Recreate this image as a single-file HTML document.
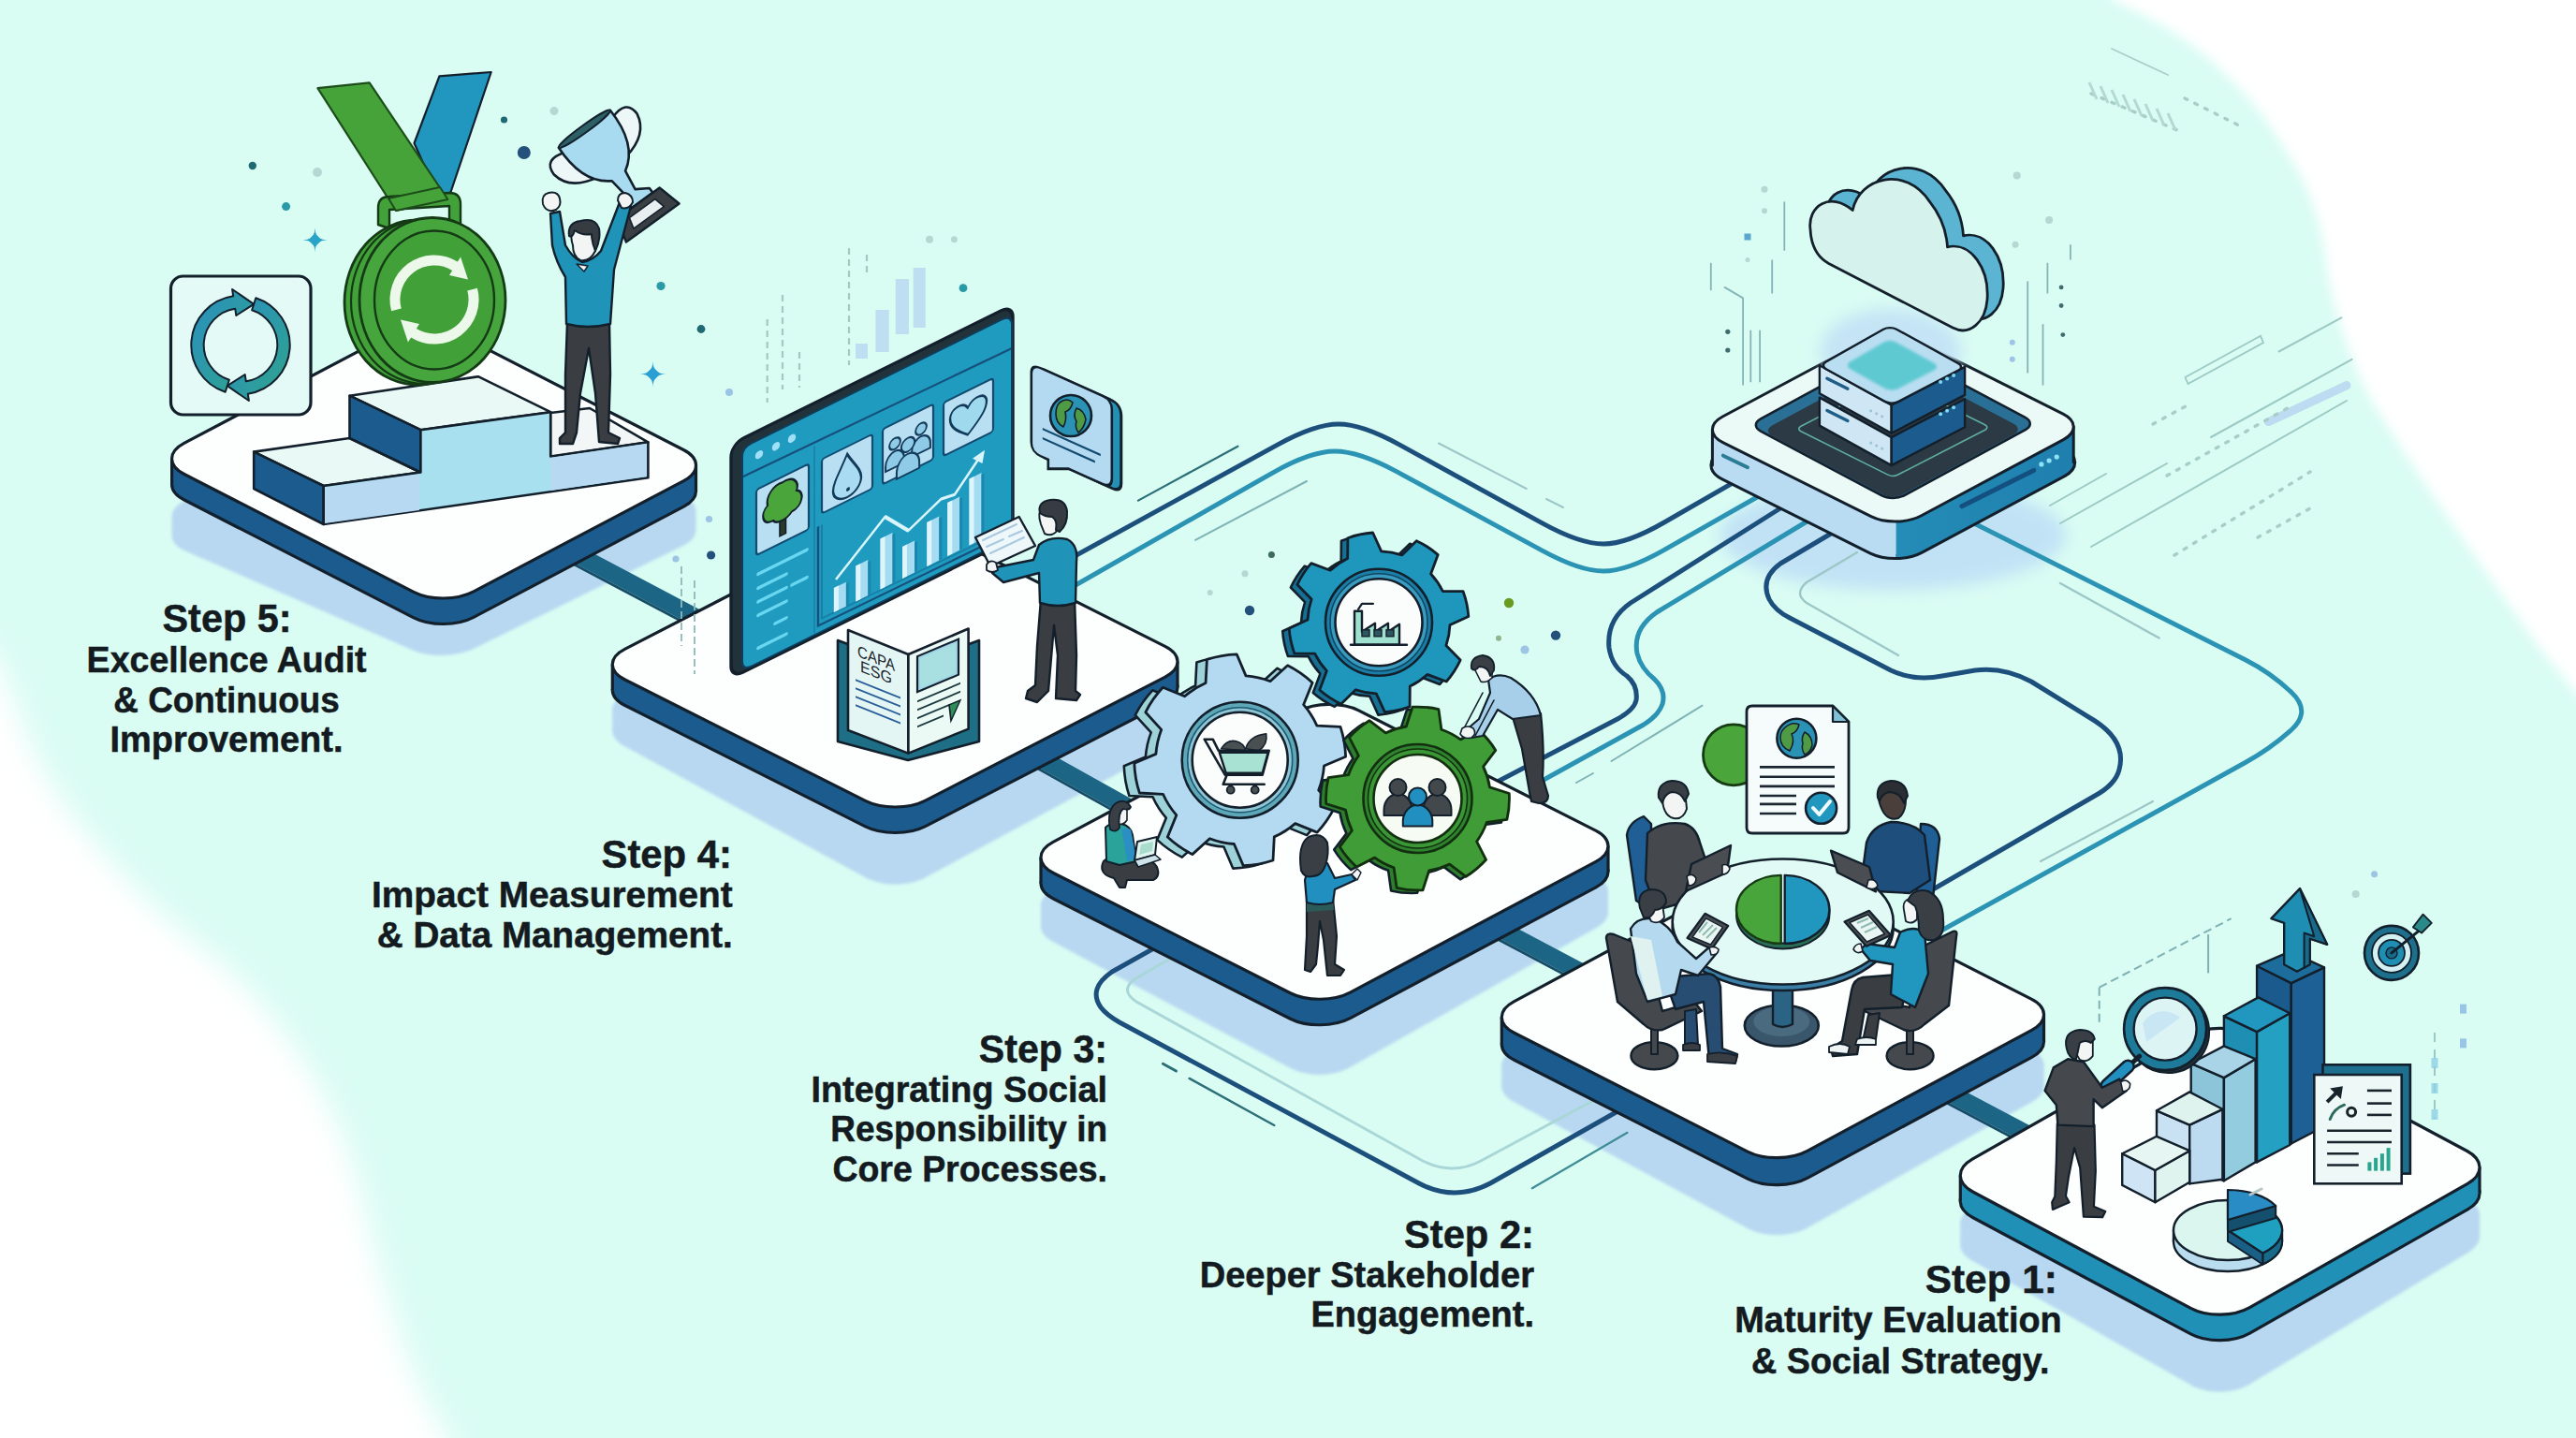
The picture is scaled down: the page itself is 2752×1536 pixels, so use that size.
<!DOCTYPE html>
<html><head><meta charset="utf-8"><title>CSR Maturity Roadmap</title>
<style>html,body{margin:0;padding:0;background:#d9fcf3;}body{width:2752px;height:1536px;overflow:hidden;font-family:"Liberation Sans",sans-serif;}svg{display:block}</style>
</head><body>
<svg width="2752" height="1536" viewBox="0 0 2752 1536" font-family="'Liberation Sans', sans-serif">
<defs><filter id="blur3" x="-10%" y="-10%" width="120%" height="120%"><feGaussianBlur stdDeviation="3"/></filter><filter id="blur40" x="-30%" y="-30%" width="160%" height="160%"><feGaussianBlur stdDeviation="28"/></filter><filter id="blur2" x="-10%" y="-10%" width="120%" height="120%"><feGaussianBlur stdDeviation="1.5"/></filter><filter id="blurTR" x="-20%" y="-20%" width="140%" height="140%"><feGaussianBlur stdDeviation="6"/></filter><filter id="blurBL" x="-20%" y="-20%" width="140%" height="140%"><feGaussianBlur stdDeviation="16"/></filter><filter id="blur8" x="-30%" y="-30%" width="160%" height="160%"><feGaussianBlur stdDeviation="8"/></filter></defs>
<rect width="2752" height="1536" fill="#d9fcf3"/>
<path d="M2248 -40 L2256 0 C2300 20 2335 40 2361 64 C2395 95 2415 118 2431 144 C2448 170 2460 190 2467 208 C2478 235 2483 262 2486 288 C2490 312 2496 334 2502 352 C2510 376 2518 398 2527 416 C2536 432 2544 446 2551 456 C2575 494 2602 534 2629 573 C2655 610 2682 648 2707 684 C2722 704 2738 722 2752 740 L2820 800 L2820 -40 Z" fill="#ffffff" filter="url(#blurTR)"/>
<path d="M-60 640 L0 708 C14 740 24 772 37 802 C52 834 70 862 93 889 C118 920 146 950 175 977 C200 1000 226 1018 249 1039 C272 1062 294 1088 312 1114 C332 1142 348 1170 362 1201 C378 1240 390 1284 399 1326 C410 1370 424 1412 436 1450 C450 1484 464 1512 480 1536 L500 1600 L-60 1600 Z" fill="#ffffff" filter="url(#blurBL)"/>
<g filter="url(#blur2)" fill="#b8d8f1"><path d="M197.9 588.5 C179.7 580.5 179.1 566.6 196.7 557.3 L421.2 439.1 C438.8 429.8 467.6 429.1 485.7 437.5 L729.6 551.6 C747.6 560.1 747.7 574 729.9 582.8 L506.4 692.8 C488.5 701.6 459.3 702.3 441 694.4 Z"/><path d="M197.9 566.5 C179.7 558.5 179.1 544.6 196.7 535.3 L421.2 417.1 C438.8 407.8 467.6 407.1 485.7 415.5 L729.6 529.6 C747.6 538.1 747.7 552 729.9 560.8 L506.4 670.8 C488.5 679.6 459.3 680.3 441 672.4 Z"/><polygon points="183.6,552 743.5,545 743.5,567 183.6,574"/></g>
<g filter="url(#blur2)" fill="#b8d8f1"><path d="M667.1 797 C649.7 787.5 649.8 772.4 667.5 763.3 L923.7 631.3 C941.3 622.2 970 622.3 987.6 631.4 L1244.8 765 C1262.5 774.2 1262.6 789.3 1245.1 798.7 L988.3 937.5 C970.8 946.9 942.5 946.9 925 937.4 Z"/><path d="M667.1 775 C649.7 765.5 649.8 750.4 667.5 741.3 L923.7 609.3 C941.3 600.2 970 600.3 987.6 609.4 L1244.8 743 C1262.5 752.2 1262.6 767.3 1245.1 776.7 L988.3 915.5 C970.8 924.9 942.5 924.9 925 915.4 Z"/><polygon points="654.3,757.7 1258,759.7 1258,781.7 654.3,779.7"/></g>
<g filter="url(#blur2)" fill="#b8d8f1"><path d="M1125.1 1006.1 C1107.5 996.8 1107.5 981.6 1125.1 972.3 L1387.6 832.5 C1405.2 823.2 1433.8 822.8 1451.6 831.6 L1704.5 957.4 C1722.3 966.2 1722.7 981.4 1705.4 991.1 L1441.9 1140.3 C1424.6 1150.1 1396.4 1150.5 1378.8 1141.1 Z"/><path d="M1125.1 984.1 C1107.5 974.8 1107.5 959.6 1125.1 950.3 L1387.6 810.5 C1405.2 801.2 1433.8 800.8 1451.6 809.6 L1704.5 935.4 C1722.3 944.2 1722.7 959.4 1705.4 969.1 L1441.9 1118.3 C1424.6 1128.1 1396.4 1128.5 1378.8 1119.1 Z"/><polygon points="1112,967 1718,951.6 1718,973.6 1112,989"/></g>
<g filter="url(#blur2)" fill="#b8d8f1"><path d="M1617.3 1177 C1599.8 1167.6 1599.8 1152.3 1617.3 1142.9 L1857 1014 C1874.5 1004.6 1903 1004.3 1920.7 1013.5 L2170.2 1142.8 C2187.9 1152 2188.1 1167.3 2170.8 1177 L1930.5 1311.8 C1913.2 1321.5 1884.9 1321.7 1867.4 1312.3 Z"/><path d="M1617.3 1155 C1599.8 1145.6 1599.8 1130.3 1617.3 1120.9 L1857 992 C1874.5 982.6 1903 982.3 1920.7 991.5 L2170.2 1120.8 C2187.9 1130 2188.1 1145.3 2170.8 1155 L1930.5 1289.8 C1913.2 1299.5 1884.9 1299.7 1867.4 1290.3 Z"/><polygon points="1604.3,1137.7 2183.5,1137.6 2183.5,1159.6 1604.3,1159.7"/></g>
<g filter="url(#blur2)" fill="#b8d8f1"><path d="M2107.1 1346.8 C2089.8 1337 2089.8 1321.1 2107.1 1311.2 L2339.9 1178.9 C2357.2 1169.1 2385.4 1168.7 2402.9 1178.1 L2635.7 1302.5 C2653.3 1311.9 2653.7 1327.8 2636.6 1338 L2403 1478.8 C2385.9 1489.1 2358.1 1489.4 2340.8 1479.6 Z"/><path d="M2107.1 1324.8 C2089.8 1315 2089.8 1299.1 2107.1 1289.2 L2339.9 1156.9 C2357.2 1147.1 2385.4 1146.7 2402.9 1156.1 L2635.7 1280.5 C2653.3 1289.9 2653.7 1305.8 2636.6 1316 L2403 1456.8 C2385.9 1467.1 2358.1 1467.4 2340.8 1457.6 Z"/><polygon points="2094.3,1306.8 2649,1297.7 2649,1319.7 2094.3,1328.8"/></g>
<ellipse cx="2022" cy="572" rx="185" ry="58" fill="#bfe0f6" opacity="0.9" filter="url(#blur8)"/>
<path d="M1149 593.5 L1364.7 475.1 Q1405 453 1430 453 L1430 453 Q1455 453 1495.3 475.1 L1647.7 558.9 Q1688 581 1713 581 L1713 581 Q1738 581 1777.9 558 L1870 505" fill="none" stroke="#1d4f7c" stroke-width="5" stroke-linecap="round" stroke-linejoin="round" />
<path d="M1149 625 L1360 504.8 Q1400 482 1426 482 L1426 482 Q1452 482 1492.4 503.9 L1647.6 588.1 Q1688 610 1713 610 L1713 610 Q1738 610 1778 587.3 L1900 518" fill="none" stroke="#2b93b3" stroke-width="5" stroke-linecap="round" stroke-linejoin="round" />
<path d="M1905 541 L1742 644 Q1716 662 1719 692 Q1722 712 1738 722 Q1750 732 1748 748 Q1746 758 1728 768 L1590 840" fill="none" stroke="#1d4f7c" stroke-width="5" stroke-linecap="round" stroke-linejoin="round" />
<path d="M1932 556 L1770 654 Q1744 672 1749 698 Q1753 714 1768 726 Q1780 738 1776 752 Q1772 764 1756 774 L1640 838" fill="none" stroke="#2b93b3" stroke-width="5" stroke-linecap="round" stroke-linejoin="round" />
<path d="M1956 570 L1902 602 Q1880 618 1890 640 Q1896 652 1912 660 L2020 716 Q2045 728 2075 722 L2110 716 Q2140 712 2170 728 L2238 770 Q2272 792 2264 822 Q2260 838 2238 850 L2065 950" fill="none" stroke="#1d4f7c" stroke-width="5" stroke-linecap="round" stroke-linejoin="round" />
<path d="M2109 559 L2398.2 704.5 Q2425 718 2446.9 738.5 L2447.5 739 Q2470 760 2447.5 780 L2447.4 780.1 Q2425 800 2398.7 814.5 L2074 994" fill="none" stroke="#2b93b3" stroke-width="5" stroke-linecap="round" stroke-linejoin="round" />
<path d="M1238 1010 L1188 1038 Q1162 1056 1176 1076 Q1182 1084 1196 1092 L1516 1264 Q1554 1284 1592 1264 L1730 1186" fill="none" stroke="#1d4f7c" stroke-width="5" stroke-linecap="round" stroke-linejoin="round" />
<path d="M1250 1024 L1212 1046 Q1196 1058 1214 1070 L1520 1240 Q1552 1256 1582 1240 L1705 1174" fill="none" stroke="#a9d6d6" stroke-width="3" stroke-linecap="round" stroke-linejoin="round" />
<path d="M1216 534.6 L1322.4 476.7" fill="none" stroke="#2c6f78" stroke-width="2.2" stroke-linecap="round" stroke-linejoin="round" />
<path d="M1277 576.8 L1396 514" fill="none" stroke="#7fb4b6" stroke-width="2" stroke-linecap="round" stroke-linejoin="round" />
<path d="M1537 473.5 L1630.7 522" fill="none" stroke="#9cc7c6" stroke-width="2" stroke-linecap="round" stroke-linejoin="round" />
<path d="M1652 533 L1670 542" fill="none" stroke="#9cc7c6" stroke-width="2" stroke-linecap="round" stroke-linejoin="round" />
<path d="M1818.5 753.7 L1721.5 813" fill="none" stroke="#7fb4b6" stroke-width="2" stroke-linecap="round" stroke-linejoin="round" />
<path d="M1702 826 L1684 836" fill="none" stroke="#7fb4b6" stroke-width="2" stroke-linecap="round" stroke-linejoin="round" />
<path d="M1242.4 1136.2 L1256.5 1144" fill="none" stroke="#2c6f78" stroke-width="3" stroke-linecap="round" stroke-linejoin="round" />
<path d="M1270.6 1151.9 L1361.3 1202" fill="none" stroke="#2c6f78" stroke-width="2.4" stroke-linecap="round" stroke-linejoin="round" />
<path d="M1636.8 1269.2 L1738.5 1209.8" fill="none" stroke="#3f8c95" stroke-width="2.2" stroke-linecap="round" stroke-linejoin="round" />
<path d="M1984 590 L1930 622 Q1916 634 1930 644 L2028 700" fill="none" stroke="#9cc7c6" stroke-width="2.4" stroke-linecap="round" stroke-linejoin="round" />
<path d="M2201 623 L2306.7 681.5" fill="none" stroke="#9cc7c6" stroke-width="2.4" stroke-linecap="round" stroke-linejoin="round" />
<path d="M2300 856 L2180 920" fill="none" stroke="#9cc7c6" stroke-width="2.2" stroke-linecap="round" stroke-linejoin="round" />
<polygon points="602,595.2 622,584.8 762,658.8 742,669.2" fill="#1d6584"  /><polygon points="602,595.2 742,669.2 742.6,672.7 602.6,598.7" fill="#164c66"  />
<polygon points="1098,813.2 1118,802.8 1222,860.8 1202,871.2" fill="#1d6584"  /><polygon points="1098,813.2 1202,871.2 1202.6,874.7 1098.6,816.7" fill="#164c66"  />
<polygon points="1588,995.2 1608,984.8 1710,1038.8 1690,1049.2" fill="#1d6584"  /><polygon points="1588,995.2 1690,1049.2 1690.6,1052.7 1588.6,998.7" fill="#164c66"  />
<polygon points="2070,1171.2 2090,1160.8 2196,1216.8 2176,1227.2" fill="#1d6584"  /><polygon points="2070,1171.2 2176,1227.2 2176.6,1230.7 2070.6,1174.7" fill="#164c66"  />
<path d="M196.9 534 C179.2 525 179.1 510.1 196.7 500.8 L421.2 382.6 C438.8 373.3 467.4 373.1 485.1 382.2 L730.2 508 C747.9 517 748 531.9 730.4 541.2 L505.9 659.4 C488.3 668.7 459.7 668.9 442 659.8 Z" fill="#1b5b8d" stroke="#13202c" stroke-width="3.2" stroke-linejoin="round"/>
<polygon points="183.6,490 743.5,497 743.5,524.5 183.6,517.5" fill="#1b5b8d"/>
<path d="M183.6 490 v27.5 M743.5 497 v27.5" stroke="#13202c" stroke-width="3.2" fill="none"/>
<path d="M196.9 506.5 C179.2 497.5 179.1 482.6 196.7 473.3 L421.2 355.1 C438.8 345.8 467.4 345.6 485.1 354.7 L730.2 480.5 C747.9 489.5 748 504.4 730.4 513.7 L505.9 631.9 C488.3 641.2 459.7 641.4 442 632.3 Z" fill="#fdfefe" stroke="#13202c" stroke-width="3.2" stroke-linejoin="round"/>
<path d="M667.7 753.5 C649.9 744.5 649.8 729.9 667.5 720.8 L923.7 588.8 C941.3 579.7 970.1 579.6 987.8 588.5 L1244.6 717.9 C1262.4 726.9 1262.5 741.5 1244.8 750.6 L988.6 882.6 C971 891.7 942.2 891.8 924.5 882.9 Z" fill="#1b5b8d" stroke="#13202c" stroke-width="3.2" stroke-linejoin="round"/>
<polygon points="654.3,709.7 1258,706.7 1258,734.2 654.3,737.2" fill="#1b5b8d"/>
<path d="M654.3 709.7 v27.5 M1258 706.7 v27.5" stroke="#13202c" stroke-width="3.2" fill="none"/>
<path d="M667.7 726 C649.9 717 649.8 702.4 667.5 693.3 L923.7 561.3 C941.3 552.2 970.1 552.1 987.8 561 L1244.6 690.4 C1262.4 699.4 1262.5 714 1244.8 723.1 L988.6 855.1 C971 864.2 942.2 864.3 924.5 855.4 Z" fill="#fdfefe" stroke="#13202c" stroke-width="3.2" stroke-linejoin="round"/>
<path d="M1125.4 960 C1107.7 951 1107.5 936.1 1125.1 926.8 L1387.6 787 C1405.2 777.7 1433.8 777.4 1451.5 786.4 L1704.6 914.6 C1722.3 923.6 1722.5 938.5 1704.9 947.8 L1442.4 1087.6 C1424.8 1096.9 1396.2 1097.2 1378.5 1088.2 Z" fill="#1b5b8d" stroke="#13202c" stroke-width="3.2" stroke-linejoin="round"/>
<polygon points="1112,916 1718,903.6 1718,931.1 1112,943.5" fill="#1b5b8d"/>
<path d="M1112 916 v27.5 M1718 903.6 v27.5" stroke="#13202c" stroke-width="3.2" fill="none"/>
<path d="M1125.4 932.5 C1107.7 923.5 1107.5 908.6 1125.1 899.3 L1387.6 759.5 C1405.2 750.2 1433.8 749.9 1451.5 758.9 L1704.6 887.1 C1722.3 896.1 1722.5 911 1704.9 920.3 L1442.4 1060.1 C1424.8 1069.4 1396.2 1069.7 1378.5 1060.7 Z" fill="#fdfefe" stroke="#13202c" stroke-width="3.2" stroke-linejoin="round"/>
<path d="M1617.7 1132.2 C1600 1123.2 1599.8 1108.3 1617.3 1098.9 L1857 970 C1874.5 960.6 1903.1 960.2 1920.8 969.2 L2170.1 1096.1 C2187.8 1105.1 2188 1120 2170.5 1129.4 L1930.8 1258.3 C1913.3 1267.7 1884.7 1268.1 1867 1259.1 Z" fill="#1b5b8d" stroke="#13202c" stroke-width="3.2" stroke-linejoin="round"/>
<polygon points="1604.3,1086.7 2183.5,1083.6 2183.5,1112.6 1604.3,1115.7" fill="#1b5b8d"/>
<path d="M1604.3 1086.7 v29 M2183.5 1083.6 v29" stroke="#13202c" stroke-width="3.2" fill="none"/>
<path d="M1617.7 1103.2 C1600 1094.2 1599.8 1079.3 1617.3 1069.9 L1857 941 C1874.5 931.6 1903.1 931.2 1920.8 940.2 L2170.1 1067.1 C2187.8 1076.1 2188 1091 2170.5 1100.4 L1930.8 1229.3 C1913.3 1238.7 1884.7 1239.1 1867 1230.1 Z" fill="#fdfefe" stroke="#13202c" stroke-width="3.2" stroke-linejoin="round"/>
<path d="M2107.6 1300.5 C2090 1291.1 2089.8 1275.6 2107.1 1265.7 L2339.9 1133.4 C2357.2 1123.6 2385.4 1123.2 2402.9 1132.6 L2635.7 1257 C2653.3 1266.4 2653.5 1281.9 2636.2 1291.8 L2403.4 1424.1 C2386.1 1433.9 2357.9 1434.3 2340.4 1424.9 Z" fill="#2190b6" stroke="#13202c" stroke-width="3.2" stroke-linejoin="round"/>
<polygon points="2094.3,1255.8 2649,1246.7 2649,1274.2 2094.3,1283.3" fill="#2190b6"/>
<path d="M2094.3 1255.8 v27.5 M2649 1246.7 v27.5" stroke="#13202c" stroke-width="3.2" fill="none"/>
<path d="M2107.6 1273 C2090 1263.6 2089.8 1248.1 2107.1 1238.2 L2339.9 1105.9 C2357.2 1096.1 2385.4 1095.7 2402.9 1105.1 L2635.7 1229.5 C2653.3 1238.9 2653.5 1254.4 2636.2 1264.3 L2403.4 1396.6 C2386.1 1406.4 2357.9 1406.8 2340.4 1397.4 Z" fill="#fdfefe" stroke="#13202c" stroke-width="3.2" stroke-linejoin="round"/>
<polygon points="588,441 630,436 692.4,472.3 588,488" fill="#f3f6f6" stroke="#13202c" stroke-width="2.6" stroke-linejoin="round" />
<polygon points="271.2,482.6 373.5,468 449,504.5 345.7,519" fill="#e9f9f6" stroke="#13202c" stroke-width="2.6" stroke-linejoin="round" />
<polygon points="271.2,482.6 345.7,519 345.7,560 271.2,522" fill="#1b5b8d" stroke="#13202c" stroke-width="2.6" stroke-linejoin="round" />
<polygon points="373.5,422.7 510.8,402.2 588.2,440.2 449.4,459.2" fill="#e9f9f6" stroke="#13202c" stroke-width="2.6" stroke-linejoin="round" />
<polygon points="373.5,422.7 449.4,459.2 449.4,504.5 373.5,468" fill="#1b5b8d" stroke="#13202c" stroke-width="2.6" stroke-linejoin="round" />
<polygon points="345.7,560 345.7,519 449.4,504.5 449.4,459.2 588.2,440.2 588.2,487.5 692.4,472.3 692.4,510.3" fill="#a9e0f0" stroke="#13202c" stroke-width="2.6" stroke-linejoin="round" />
<polygon points="588.2,489 691,474 691,509 588.2,524" fill="#b7daf2"  />
<polygon points="347,521 448,506.5 448,545 347,559" fill="#b7daf2"  />
<rect x="182.5" y="295" width="149.5" height="148" rx="13" fill="#e3faf6" stroke="#13202c" stroke-width="3.2"/>
<defs><linearGradient id="gIc" x1="0" y1="0" x2="1" y2="1"><stop offset="0" stop-color="#2a8fc0"/><stop offset="1" stop-color="#2fa48c"/></linearGradient></defs>
<path d="M240.7 418.7 A52.8 52.8 0 0 1 249.2 316.3 L248.1 309 L271.2 324.8 L252.3 337 L251.2 329.7 A39.2 39.2 0 0 0 244.9 405.8 Z" fill="url(#gIc)" stroke="#13202c" stroke-width="2" stroke-linejoin="round" stroke-linecap="round" />
<path d="M273.3 318.3 A52.8 52.8 0 0 1 264.8 420.7 L265.9 428 L242.8 412.2 L261.7 400 L262.8 407.3 A39.2 39.2 0 0 0 269.1 331.2 Z" fill="url(#gIc)" stroke="#13202c" stroke-width="2" stroke-linejoin="round" stroke-linecap="round" />
<polygon points="469.4,81.4 524.7,77 481.4,205.5 470,214 442.5,153" fill="#2196bf" stroke="#13202c" stroke-width="2.2" stroke-linejoin="round" />
<polygon points="339.4,94.2 394.7,88.3 478.4,213 423,225" fill="#45a33a" stroke="#1d4d1a" stroke-width="2.2" stroke-linejoin="round" />
<path d="M404 240 L404 222 Q404 210 416 210 L480 206 Q492 206 492 218 L492 240 L480 240 L480 220 L416 224 L416 244 Z" fill="#43a13a" stroke="#143a16" stroke-width="2.4" stroke-linejoin="round" stroke-linecap="round" />
<polygon points="423,225 478.4,213 470,200 415,212" fill="#45a33a" stroke="#1d4d1a" stroke-width="2" stroke-linejoin="round" />
<ellipse cx="446" cy="323" rx="78" ry="88" fill="#43a13a" stroke="#143a16" stroke-width="2.8" />
<ellipse cx="453" cy="322" rx="78" ry="88" fill="#43a13a" stroke="#143a16" stroke-width="2.2" />
<ellipse cx="462" cy="320.5" rx="78" ry="88" fill="#46a63d" stroke="#143a16" stroke-width="2.8" />
<ellipse cx="464" cy="320.5" rx="64" ry="74" fill="#41a038" stroke="#143a16" stroke-width="2.4" />
<path d="M418.1 332.3 A47.5 47.5 0 0 1 488.9 279.5 L492.1 274.4 L500 298.4 L480 294.1 L483.1 288.9 A36.5 36.5 0 0 0 428.7 329.4 Z" fill="#ecf8ea"  />
<path d="M509.9 307.7 A47.5 47.5 0 0 1 439.1 360.5 L435.9 365.6 L428 341.6 L448 345.9 L444.9 351.1 A36.5 36.5 0 0 0 499.3 310.6 Z" fill="#ecf8ea"  />
<g transform="translate(-13 2) rotate(-36 655 160)">
<path d="M624 138 Q600 130 600 150 Q604 174 636 180 M686 138 Q710 130 710 150 Q706 174 674 180" fill="#eef7f8" stroke="#13202c" stroke-width="2.6" stroke-linejoin="round" stroke-linecap="round" />
<path d="M621 130 L689 130 Q691 176 664 192 L661 214 L674 222 L674 228 L636 228 L636 222 L649 214 L646 192 Q619 176 621 130 Z" fill="#a9dbf0" stroke="#13202c" stroke-width="2.6" stroke-linejoin="round" stroke-linecap="round" />
<ellipse cx="655" cy="130" rx="34" ry="4" fill="#2c5f66" stroke="#13202c" stroke-width="2" />
<path d="M627 228 L683 228 L690 254 L620 254 Z" fill="#3a3f44" stroke="#13202c" stroke-width="2.4" stroke-linejoin="round" stroke-linecap="round" />
<path d="M638 235 L672 235 L675 247 L635 247 Z" fill="#e9eef0" stroke="#13202c" stroke-width="1.6" stroke-linejoin="round" stroke-linecap="round" />
</g>
<path d="M606 344 L651 344 L652 400 L650 462 L662 468 L660 474 L640 472 L636 420 L629 372 L620 420 L616 462 L612 474 L598 474 L598 468 L604 462 L604 400 Z" fill="#3a3d41" stroke="#13202c" stroke-width="2.4" stroke-linejoin="round" stroke-linecap="round" />
<path d="M588 228 L598 226 L604 262 Q612 276 622 280 Q634 278 642 268 L662 216 L674 220 L656 288 L652 346 Q628 352 605 346 L604 296 Q594 280 590 262 Z" fill="#2093b8" stroke="#13202c" stroke-width="2.4" stroke-linejoin="round" stroke-linecap="round" />
<path d="M580 218 q-2 -10 6 -12 q10 -2 12 6 q2 8 -4 12 q-10 4 -14 -6 Z" fill="#f3f5f5" stroke="#13202c" stroke-width="2" stroke-linejoin="round" stroke-linecap="round" />
<path d="M660 214 q0 -8 8 -8 q8 2 8 10 q-4 8 -12 6 Z" fill="#f3f5f5" stroke="#13202c" stroke-width="2" stroke-linejoin="round" stroke-linecap="round" />
<path d="M612 262 Q608 250 614 244 L634 246 L636 268 Q630 280 620 278 Q612 274 612 262 Z" fill="#f3f5f5" stroke="#13202c" stroke-width="2" stroke-linejoin="round" stroke-linecap="round" />
<path d="M608 252 Q606 238 620 236 Q636 232 640 244 Q642 256 636 268 Q632 258 632 250 Q622 252 614 246 Q612 254 608 252 Z" fill="#363c42" stroke="#13202c" stroke-width="2" stroke-linejoin="round" stroke-linecap="round" />
<path d="M616 282 L628 284 L624 290 Z" fill="#f3f5f5" stroke="#13202c" stroke-width="1.4" stroke-linejoin="round" stroke-linecap="round" />
<g transform="matrix(1,-0.495,0,1,782,476)">
<rect x="-1" y="-2" width="301" height="250" rx="13" fill="#22323b" stroke="#13202c" stroke-width="3.4"/>
<path d="M11 18 Q11 8 21 8 L288 8 Q299 8 299 19 L299 236 Q299 246 288 246 L21 246 Q11 246 11 236 Z" fill="#1f9bbf" stroke="#0f3e5c" stroke-width="2"/>
<path d="M12 39 L298 44" stroke="#15517c" stroke-width="2.4" fill="none"/>
<circle cx="29" cy="24" r="4.2" fill="#9fe0f6"/>
<circle cx="47" cy="24" r="4.2" fill="#9fe0f6"/>
<circle cx="64" cy="24" r="4.2" fill="#9fe0f6"/>
<path d="M88 44 L88 244" stroke="#1b86ab" stroke-width="2" fill="none"/>
<rect x="26" y="60" width="56" height="70" rx="3" fill="#b9dff3" stroke="#124a70" stroke-width="2.2"/>
<rect x="96" y="62" width="54" height="58" rx="3" fill="#b9dff3" stroke="#124a70" stroke-width="2.2"/>
<rect x="161" y="62" width="54" height="59" rx="3" fill="#b9dff3" stroke="#124a70" stroke-width="2.2"/>
<rect x="226" y="66" width="53" height="57" rx="3" fill="#b9dff3" stroke="#124a70" stroke-width="2.2"/>
<path d="M92 132 L92 238 L297 240" fill="none" stroke="#15517c" stroke-width="2.4"/>
<path d="M96 132 L96 232 L297 235" fill="none" stroke="#177fa6" stroke-width="2"/>
<rect x="108.9" y="206" width="13" height="26" fill="#a5dcf2"/>
<rect x="108.9" y="206" width="5" height="26" fill="#dff5fc"/>
<rect x="121.9" y="208" width="3" height="24" fill="#1a88ae"/>
<rect x="132.3" y="194" width="13" height="38" fill="#a5dcf2"/>
<rect x="132.3" y="194" width="5" height="38" fill="#dff5fc"/>
<rect x="145.3" y="196" width="3" height="36" fill="#1a88ae"/>
<rect x="158.5" y="178" width="13" height="54" fill="#a5dcf2"/>
<rect x="158.5" y="178" width="5" height="54" fill="#dff5fc"/>
<rect x="171.5" y="180" width="3" height="52" fill="#1a88ae"/>
<rect x="182" y="198" width="13" height="34" fill="#a5dcf2"/>
<rect x="182" y="198" width="5" height="34" fill="#dff5fc"/>
<rect x="195" y="200" width="3" height="32" fill="#1a88ae"/>
<rect x="208.3" y="185" width="13" height="47" fill="#a5dcf2"/>
<rect x="208.3" y="185" width="5" height="47" fill="#dff5fc"/>
<rect x="221.3" y="187" width="3" height="45" fill="#1a88ae"/>
<rect x="230.2" y="175" width="13" height="57" fill="#a5dcf2"/>
<rect x="230.2" y="175" width="5" height="57" fill="#dff5fc"/>
<rect x="243.2" y="177" width="3" height="55" fill="#1a88ae"/>
<rect x="253.5" y="161" width="13" height="71" fill="#a5dcf2"/>
<rect x="253.5" y="161" width="5" height="71" fill="#dff5fc"/>
<rect x="266.5" y="163" width="3" height="69" fill="#1a88ae"/>
<path d="M111 198 L163.6 157 L188.4 184 L223.5 167.6 L238 170 L266 142" fill="none" stroke="#d9f5fc" stroke-width="3.2" stroke-linejoin="round"/>
<path d="M257 141 L270 138.5 L267.5 151.5 Z" fill="#d9f5fc"/>
<path d="M28 151 L80 151" stroke="#69d7f0" stroke-width="3.6" stroke-linecap="round"/>
<path d="M28 166 L58 166" stroke="#69d7f0" stroke-width="3.6" stroke-linecap="round"/>
<path d="M28 180.5 L58 180.5" stroke="#69d7f0" stroke-width="3.6" stroke-linecap="round"/>
<path d="M64 180.5 L80 180.5" stroke="#69d7f0" stroke-width="3.6" stroke-linecap="round"/>
<path d="M28 195 L58 195" stroke="#69d7f0" stroke-width="3.6" stroke-linecap="round"/>
<path d="M46 212.7 L58 212.7" stroke="#69d7f0" stroke-width="3.6" stroke-linecap="round"/>
<path d="M28 230 L58 230" stroke="#69d7f0" stroke-width="3.6" stroke-linecap="round"/>
</g>
<g transform="matrix(1,-0.495,0,1,782,476)">
<rect x="51" y="92" width="6.5" height="30" fill="#2a3b2c" stroke="#13202c" stroke-width="1.6"/>
<path d="M54 66 C66 64 72 74 69 82 C78 86 76 102 64 102 C58 108 48 108 44 102 C32 102 30 88 38 83 C36 72 44 64 54 66 Z" fill="#4aa63b" stroke="#13202c" stroke-width="2.2"/>
<path d="M123 70 C116 84 108 93 108 102 A15 14 0 0 0 138 102 C138 93 130 84 123 70 Z" fill="#a9dcf2" stroke="#123a5a" stroke-width="2.4"/>
<circle cx="124" cy="108" r="2" fill="#123a5a"/>
<path d="M164.1 103.8 a9.9 11.7 0 0 1 19.8 0 v5.4 h-19.8 Z" fill="#8fcbe6" stroke="#123a5a" stroke-width="2"/>
<circle cx="174" cy="84" r="5.9" fill="#8fcbe6" stroke="#123a5a" stroke-width="2"/>
<path d="M192.1 101.8 a9.9 11.7 0 0 1 19.8 0 v5.4 h-19.8 Z" fill="#8fcbe6" stroke="#123a5a" stroke-width="2"/>
<circle cx="202" cy="82" r="5.9" fill="#8fcbe6" stroke="#123a5a" stroke-width="2"/>
<path d="M175.9 116.2 a12.1 14.3 0 0 1 24.2 0 v6.6 h-24.2 Z" fill="#8fcbe6" stroke="#123a5a" stroke-width="2"/>
<circle cx="188" cy="92" r="7.2" fill="#8fcbe6" stroke="#123a5a" stroke-width="2"/>
<path d="M252 113 C238 102 233 95 233 87 C233 77 246 74 252 84 C258 74 272 77 272 87 C272 95 266 102 252 113 Z" fill="#9fd9ee" stroke="#123a5a" stroke-width="2.4"/>
</g>
<g transform="matrix(1,0.45,0,1,1101.8,388.7)">
<path d="M14 0 L84 0 Q96 0 96 12 L96 84 Q96 94 86 94 L14 94 Q8 94 8 84 L8 12 Q8 0 14 0 Z" fill="#2490b4" stroke="#13202c" stroke-width="3"/>
<path d="M10 0 L76 0 Q86 0 86 10 L86 84 Q86 94 76 94 L40 94 L18 104 L18 94 L10 94 Q0 94 0 84 L0 10 Q0 0 10 0 Z" fill="#b3daf0" stroke="#13202c" stroke-width="2.6"/>
<path d="M12 64 L74 64 M12 74 L68 74" stroke="#134a70" stroke-width="2.4" fill="none"/>
</g>
<circle cx="1144" cy="444" r="22" fill="#2a93b5" stroke="#13202c" stroke-width="2.6" />
<path d="M1132 430 q8 -6 14 0 q-2 8 -8 10 q2 8 -2 16 q-8 -4 -8 -14 q0 -8 4 -12 Z M1150 436 q8 2 10 12 q-2 10 -8 14 q-4 -6 -2 -12 q-4 -6 0 -14 Z" fill="#4f9a45" stroke="#13202c" stroke-width="1.6" stroke-linejoin="round" stroke-linecap="round" />
<polygon points="895,684 970,712 1046,684 1046,792 970,812 895,792" fill="#1e6f86" stroke="#13202c" stroke-width="2.6" stroke-linejoin="round" />
<polygon points="906,673 970.4,699 970.4,804.6 906,780" fill="#e4f6f4" stroke="#13202c" stroke-width="2.6" stroke-linejoin="round" />
<polygon points="970.4,699 1034.6,671.5 1034.6,778.6 970.4,804.6" fill="#ecfaf6" stroke="#13202c" stroke-width="2.6" stroke-linejoin="round" />
<g transform="matrix(1,0.4,0,1,916,701)"><text x="0" y="0" font-size="17" fill="#1a242c" textLength="40" lengthAdjust="spacingAndGlyphs">CAPA</text><text x="3" y="15" font-size="17" fill="#1a242c" textLength="34" lengthAdjust="spacingAndGlyphs">ESG</text><path d="M-2 26 L46 26 M-2 35 L46 35 M-2 44 L46 44 M-2 53 L46 53" stroke="#2a5f9a" stroke-width="2" fill="none"/></g>
<g transform="matrix(1,-0.42,0,1,978,702)"><rect x="2" y="0" width="44" height="38" fill="#9fd4e6" stroke="#13202c" stroke-width="2.2"/><rect x="5" y="3" width="38" height="32" fill="#a8dfe0" stroke="none"/><path d="M2 48 L48 48 M2 57 L48 57 M2 66 L36 66 M2 75 L30 75" stroke="#1d3b40" stroke-width="2" fill="none"/><path d="M36 66 L48 66 L38 84 Z" fill="#2f8d5a" stroke="#13202c" stroke-width="1.6"/></g>
<path d="M1112 640 L1148 640 L1150 700 L1149 738 L1154 742 L1150 748 L1128 746 L1130 700 L1126 668 L1120 738 L1108 750 L1096 746 L1098 738 L1106 732 L1108 690 Z" fill="#3a3d41" stroke="#13202c" stroke-width="2.4" stroke-linejoin="round" stroke-linecap="round" />
<path d="M1110 582 Q1122 572 1140 576 Q1152 582 1150 600 L1149 644 Q1130 650 1111 644 L1110 612 L1072 622 L1060 612 L1064 606 L1104 598 Z" fill="#1f93b8" stroke="#13202c" stroke-width="2.4" stroke-linejoin="round" stroke-linecap="round" />
<polygon points="1042,574 1088.7,552 1106,583 1058,605" fill="#eef7fa" stroke="#13202c" stroke-width="2.4" stroke-linejoin="round" />
<path d="M1050 577 L1086 560 M1054 584 L1072 576 M1078 573 L1092 567 M1058 591 L1094 574" fill="none" stroke="#a9c9e0" stroke-width="2" stroke-linecap="round" stroke-linejoin="round" />
<path d="M1054 603 q4 -6 10 -2 l2 8 q-6 4 -12 0 Z" fill="#f3f5f5" stroke="#13202c" stroke-width="1.8" stroke-linejoin="round" stroke-linecap="round" />
<path d="M1112 560 Q1108 548 1113 543 Q1118 552 1128 552 L1130 566 Q1124 574 1116 570 Z" fill="#f3f5f5" stroke="#13202c" stroke-width="2" stroke-linejoin="round" stroke-linecap="round" />
<path d="M1111 548 Q1108 536 1122 534 Q1138 532 1140 546 Q1141 560 1132 568 L1128 566 Q1130 556 1124 552 Q1116 552 1111 548 Z" fill="#363c42" stroke="#13202c" stroke-width="2" stroke-linejoin="round" stroke-linecap="round" />
<path d="M1397.7 847 L1414.6 865.6 A113 113 0 0 1 1396.1 892.1 L1372.7 882.6 A90 90 0 0 1 1350.3 896.9 L1349 922 A113 113 0 0 1 1317.2 927.6 L1307.4 904.5 A90 90 0 0 1 1281.4 898.7 L1262.8 915.6 A113 113 0 0 1 1236.3 897.1 L1245.8 873.7 A90 90 0 0 1 1231.5 851.3 L1206.4 850 A113 113 0 0 1 1200.8 818.2 L1223.9 808.4 A90 90 0 0 1 1229.7 782.4 L1212.8 763.8 A113 113 0 0 1 1231.3 737.3 L1254.7 746.8 A90 90 0 0 1 1277.1 732.5 L1278.4 707.4 A113 113 0 0 1 1310.2 701.8 L1320 724.9 A90 90 0 0 1 1346 730.7 L1364.6 713.8 A113 113 0 0 1 1391.1 732.3 L1381.6 755.7 A90 90 0 0 1 1395.9 778.1 L1421 779.4 A113 113 0 0 1 1426.6 811.2 L1403.5 821 A90 90 0 0 1 1397.7 847 Z" fill="#9dd2d8" stroke="#13202c" stroke-width="2.6" stroke-linejoin="round" stroke-linecap="round" />
<path d="M1408.7 844 L1425.6 862.6 A113 113 0 0 1 1407.1 889.1 L1383.7 879.6 A90 90 0 0 1 1361.3 893.9 L1360 919 A113 113 0 0 1 1328.2 924.6 L1318.4 901.5 A90 90 0 0 1 1292.4 895.7 L1273.8 912.6 A113 113 0 0 1 1247.3 894.1 L1256.8 870.7 A90 90 0 0 1 1242.5 848.3 L1217.4 847 A113 113 0 0 1 1211.8 815.2 L1234.9 805.4 A90 90 0 0 1 1240.7 779.4 L1223.8 760.8 A113 113 0 0 1 1242.3 734.3 L1265.7 743.8 A90 90 0 0 1 1288.1 729.5 L1289.4 704.4 A113 113 0 0 1 1321.2 698.8 L1331 721.9 A90 90 0 0 1 1357 727.7 L1375.6 710.8 A113 113 0 0 1 1402.1 729.3 L1392.6 752.7 A90 90 0 0 1 1406.9 775.1 L1432 776.4 A113 113 0 0 1 1437.6 808.2 L1414.5 818 A90 90 0 0 1 1408.7 844 Z" fill="#b4daf2" stroke="#13202c" stroke-width="2.8" stroke-linejoin="round" stroke-linecap="round" />
<circle cx="1324.7" cy="811.7" r="62" fill="#5ea7b8" stroke="#13202c" stroke-width="2.6" />
<circle cx="1324.7" cy="811.7" r="56" fill="#8fc6d6" stroke="#1d5a72" stroke-width="1.6" />
<circle cx="1324.7" cy="811.7" r="51" fill="#fbfdfd" stroke="#13202c" stroke-width="2.6" />
<path d="M1304.7 799.7 q6 -10 16 -8 q8 2 10 10 Z" fill="#4a4f52" stroke="#13202c" stroke-width="1.6" stroke-linejoin="round" stroke-linecap="round" />
<path d="M1330.7 799.7 q4 -14 22 -16 q2 12 -8 18 Z" fill="#4a4f52" stroke="#13202c" stroke-width="1.6" stroke-linejoin="round" stroke-linecap="round" />
<path d="M1286.7 789.7 l9 0 l6 12 l54 0 l-7 26 l-40 0 Z" fill="none" stroke="#13202c" stroke-width="2.6" stroke-linejoin="round" stroke-linecap="round" />
<path d="M1302.7 803.7 l52 0 l-6 22 l-39 0 Z" fill="#a7e2d3" stroke="#13202c" stroke-width="2.4" stroke-linejoin="round" stroke-linecap="round" />
<path d="M1310.7 827.7 l-4 10 l44 0" fill="none" stroke="#13202c" stroke-width="2.6" stroke-linejoin="round" stroke-linecap="round" />
<circle cx="1314.7" cy="843.7" r="4" fill="#4a4f52" stroke="#13202c" stroke-width="1.8" />
<circle cx="1340.7" cy="843.7" r="4" fill="#4a4f52" stroke="#13202c" stroke-width="1.8" />
<path d="M1537.9 692.5 L1553.1 708.1 A96 96 0 0 1 1538.2 731 L1517.8 723.4 A76 76 0 0 1 1499.3 736.1 L1499.1 757.9 A96 96 0 0 1 1472.4 763.6 L1463.3 743.8 A76 76 0 0 1 1441.3 739.7 L1425.7 754.9 A96 96 0 0 1 1402.8 740 L1410.4 719.6 A76 76 0 0 1 1397.7 701.1 L1375.9 700.9 A96 96 0 0 1 1370.2 674.2 L1390 665.1 A76 76 0 0 1 1394.1 643.1 L1378.9 627.5 A96 96 0 0 1 1393.8 604.6 L1414.2 612.2 A76 76 0 0 1 1432.7 599.5 L1432.9 577.7 A96 96 0 0 1 1459.6 572 L1468.7 591.8 A76 76 0 0 1 1490.7 595.9 L1506.3 580.7 A96 96 0 0 1 1529.2 595.6 L1521.6 616 A76 76 0 0 1 1534.3 634.5 L1556.1 634.7 A96 96 0 0 1 1561.8 661.4 L1542 670.5 A76 76 0 0 1 1537.9 692.5 Z" fill="#176f93" stroke="#13202c" stroke-width="2.6" stroke-linejoin="round" stroke-linecap="round" />
<path d="M1544.9 689.5 L1560.1 705.1 A96 96 0 0 1 1545.2 728 L1524.8 720.4 A76 76 0 0 1 1506.3 733.1 L1506.1 754.9 A96 96 0 0 1 1479.4 760.6 L1470.3 740.8 A76 76 0 0 1 1448.3 736.7 L1432.7 751.9 A96 96 0 0 1 1409.8 737 L1417.4 716.6 A76 76 0 0 1 1404.7 698.1 L1382.9 697.9 A96 96 0 0 1 1377.2 671.2 L1397 662.1 A76 76 0 0 1 1401.1 640.1 L1385.9 624.5 A96 96 0 0 1 1400.8 601.6 L1421.2 609.2 A76 76 0 0 1 1439.7 596.5 L1439.9 574.7 A96 96 0 0 1 1466.6 569 L1475.7 588.8 A76 76 0 0 1 1497.7 592.9 L1513.3 577.7 A96 96 0 0 1 1536.2 592.6 L1528.6 613 A76 76 0 0 1 1541.3 631.5 L1563.1 631.7 A96 96 0 0 1 1568.8 658.4 L1549 667.5 A76 76 0 0 1 1544.9 689.5 Z" fill="#1f97bd" stroke="#13202c" stroke-width="2.8" stroke-linejoin="round" stroke-linecap="round" />
<circle cx="1473" cy="664.8" r="57" fill="#1a7ea6" stroke="#13202c" stroke-width="2.6" />
<circle cx="1473" cy="664.8" r="52" fill="#3a9bc0" stroke="#0f4763" stroke-width="1.6" />
<circle cx="1473" cy="664.8" r="46.5" fill="#fbfdfd" stroke="#13202c" stroke-width="2.6" />
<path d="M1447 688.8 l0 -36 l8 0 l0 22 l14 -9 l0 9 l14 -9 l0 9 l12 -8 l0 22 Z" fill="#9fe0cf" stroke="#13202c" stroke-width="2.4" stroke-linejoin="round" stroke-linecap="round" />
<path d="M1451 650.8 l4 -6 l12 0" fill="none" stroke="#13202c" stroke-width="2.2" stroke-linejoin="round" stroke-linecap="round" />
<rect x="1455" y="672.8" width="8" height="7" fill="#2f5560" stroke="#13202c" stroke-width="1.4"/>
<rect x="1468" y="672.8" width="8" height="7" fill="#2f5560" stroke="#13202c" stroke-width="1.4"/>
<rect x="1481" y="672.8" width="8" height="7" fill="#2f5560" stroke="#13202c" stroke-width="1.4"/>
<path d="M1443 688.8 l60 0" fill="none" stroke="#13202c" stroke-width="2.4" stroke-linejoin="round" stroke-linecap="round" />
<path d="M1585.5 843.8 L1606.3 850.5 A98 98 0 0 1 1603.9 878.4 L1582.3 881.4 A78 78 0 0 1 1571.6 901.8 L1581.6 921.3 A98 98 0 0 1 1560.1 939.3 L1542.7 926.1 A78 78 0 0 1 1520.7 933 L1514 953.8 A98 98 0 0 1 1486.1 951.4 L1483.1 929.8 A78 78 0 0 1 1462.7 919.1 L1443.2 929.1 A98 98 0 0 1 1425.2 907.6 L1438.4 890.2 A78 78 0 0 1 1431.5 868.2 L1410.7 861.5 A98 98 0 0 1 1413.1 833.6 L1434.7 830.6 A78 78 0 0 1 1445.4 810.2 L1435.4 790.7 A98 98 0 0 1 1456.9 772.7 L1474.3 785.9 A78 78 0 0 1 1496.3 779 L1503 758.2 A98 98 0 0 1 1530.9 760.6 L1533.9 782.2 A78 78 0 0 1 1554.3 792.9 L1573.8 782.9 A98 98 0 0 1 1591.8 804.4 L1578.6 821.8 A78 78 0 0 1 1585.5 843.8 Z" fill="#2d7f2c" stroke="#13202c" stroke-width="2.6" stroke-linejoin="round" stroke-linecap="round" />
<path d="M1591.5 840.8 L1612.3 847.5 A98 98 0 0 1 1609.9 875.4 L1588.3 878.4 A78 78 0 0 1 1577.6 898.8 L1587.6 918.3 A98 98 0 0 1 1566.1 936.3 L1548.7 923.1 A78 78 0 0 1 1526.7 930 L1520 950.8 A98 98 0 0 1 1492.1 948.4 L1489.1 926.8 A78 78 0 0 1 1468.7 916.1 L1449.2 926.1 A98 98 0 0 1 1431.2 904.6 L1444.4 887.2 A78 78 0 0 1 1437.5 865.2 L1416.7 858.5 A98 98 0 0 1 1419.1 830.6 L1440.7 827.6 A78 78 0 0 1 1451.4 807.2 L1441.4 787.7 A98 98 0 0 1 1462.9 769.7 L1480.3 782.9 A78 78 0 0 1 1502.3 776 L1509 755.2 A98 98 0 0 1 1536.9 757.6 L1539.9 779.2 A78 78 0 0 1 1560.3 789.9 L1579.8 779.9 A98 98 0 0 1 1597.8 801.4 L1584.6 818.8 A78 78 0 0 1 1591.5 840.8 Z" fill="#409c37" stroke="#12300f" stroke-width="2.8" stroke-linejoin="round" stroke-linecap="round" />
<circle cx="1514.5" cy="853" r="58" fill="#2f832e" stroke="#12300f" stroke-width="2.6" />
<circle cx="1514.5" cy="853" r="53" fill="#3b9636" stroke="#12300f" stroke-width="1.6" />
<circle cx="1514.5" cy="853" r="47" fill="#f6fbf4" stroke="#12300f" stroke-width="2.6" />
<path d="M1478.5 865 a15 17 0 0 1 30 0 l0 6 l-30 0 Z" fill="#43484c" stroke="#13202c" stroke-width="2" stroke-linejoin="round" stroke-linecap="round" /><circle cx="1493.5" cy="841" r="9" fill="#43484c" stroke="#13202c" stroke-width="2" />
<path d="M1520.5 865 a15 17 0 0 1 30 0 l0 6 l-30 0 Z" fill="#43484c" stroke="#13202c" stroke-width="2" stroke-linejoin="round" stroke-linecap="round" /><circle cx="1535.5" cy="841" r="9" fill="#43484c" stroke="#13202c" stroke-width="2" />
<path d="M1498.8 876.2 a15.8 17.9 0 0 1 31.5 0 l0 6.3 l-31.5 0 Z" fill="#2190c0" stroke="#13202c" stroke-width="2" stroke-linejoin="round" stroke-linecap="round" /><circle cx="1514.5" cy="851" r="9.5" fill="#2190c0" stroke="#13202c" stroke-width="2" />
<path d="M1178 922 Q1174 934 1190 938 L1196 948 L1202 948 L1204 940 L1232 940 Q1240 936 1236 926 Q1232 918 1218 920 L1190 916 Q1180 916 1178 922 Z" fill="#3a3d41" stroke="#13202c" stroke-width="2" stroke-linejoin="round" stroke-linecap="round" />
<path d="M1181 884 Q1186 878 1198 880 Q1208 882 1210 892 L1214 920 L1196 924 L1182 920 Z" fill="#2aa39a" stroke="#13202c" stroke-width="2" stroke-linejoin="round" stroke-linecap="round" />
<path d="M1198 884 L1208 886 L1214 918 L1204 920 Z" fill="#2b8fc4"  />
<polygon points="1215,899 1236,894 1234,913 1212,919" fill="#dff3ef" stroke="#13202c" stroke-width="2" stroke-linejoin="round" />
<polygon points="1219,902 1232,899 1231,909 1217,913" fill="#a8dccb"  />
<path d="M1212 919 L1234 913 L1240 918 L1216 926 Z" fill="#cfe3ea" stroke="#13202c" stroke-width="1.6" stroke-linejoin="round" stroke-linecap="round" />
<path d="M1191 866 Q1190 858 1198 858 L1204 862 L1204 876 Q1200 882 1194 880 Z" fill="#f3f5f5" stroke="#13202c" stroke-width="1.6" stroke-linejoin="round" stroke-linecap="round" />
<path d="M1186 886 Q1182 866 1192 858 Q1202 852 1208 862 Q1206 866 1200 864 Q1194 868 1196 884 Q1192 890 1186 886 Z" fill="#3a3f45" stroke="#13202c" stroke-width="1.8" stroke-linejoin="round" stroke-linecap="round" />
<path d="M1396 962 L1424 960 L1428 1000 L1426 1030 L1436 1036 L1432 1042 L1418 1042 L1414 1004 L1410 984 L1408 1010 L1406 1030 L1400 1038 L1394 1036 L1396 1000 Z" fill="#3a3d41" stroke="#13202c" stroke-width="2.2" stroke-linejoin="round" stroke-linecap="round" />
<path d="M1396 962 L1424 960 L1425 972 L1396 974 Z" fill="#2c5a58"  />
<path d="M1398 926 Q1406 918 1418 922 L1426 938 L1444 934 L1448 940 L1426 950 L1424 964 Q1410 968 1396 964 L1394 940 Z" fill="#2190c0" stroke="#13202c" stroke-width="2.2" stroke-linejoin="round" stroke-linecap="round" />
<path d="M1444 934 l6 -6 l4 4 l-4 8 Z" fill="#f3f5f5" stroke="#13202c" stroke-width="1.4" stroke-linejoin="round" stroke-linecap="round" />
<path d="M1390 930 Q1386 902 1398 894 Q1412 888 1418 900 Q1420 912 1416 924 Q1412 936 1402 936 Q1394 938 1390 930 Z" fill="#3a3f45" stroke="#13202c" stroke-width="2" stroke-linejoin="round" stroke-linecap="round" />
<path d="M1616 766 L1646 762 Q1650 800 1648 830 L1654 850 Q1654 858 1644 858 L1636 856 L1634 846 L1626 800 Z" fill="#3a3d41" stroke="#13202c" stroke-width="2.2" stroke-linejoin="round" stroke-linecap="round" />
<path d="M1590 726 Q1600 718 1614 724 Q1640 740 1646 764 L1616 768 L1600 758 L1584 786 L1572 788 L1566 780 L1580 768 L1592 740 Z" fill="#a8cfea" stroke="#13202c" stroke-width="2.2" stroke-linejoin="round" stroke-linecap="round" />
<path d="M1584 740 L1564 778 M1596 748 L1576 786" fill="none" stroke="#13202c" stroke-width="1.6" stroke-linejoin="round" stroke-linecap="round" />
<path d="M1562 778 q6 -4 12 0 q4 6 -2 10 q-8 2 -12 -4 Z" fill="#f3f5f5" stroke="#13202c" stroke-width="1.6" stroke-linejoin="round" stroke-linecap="round" />
<path d="M1576 716 Q1574 706 1582 706 L1594 708 L1594 724 Q1588 730 1582 728 Z" fill="#f3f5f5" stroke="#13202c" stroke-width="1.6" stroke-linejoin="round" stroke-linecap="round" />
<path d="M1572 714 Q1570 702 1584 700 Q1598 702 1596 716 L1592 722 Q1590 712 1580 712 Q1576 718 1572 714 Z" fill="#3a3f45" stroke="#13202c" stroke-width="1.8" stroke-linejoin="round" stroke-linecap="round" />
<circle cx="1852" cy="806.3" r="32.5" fill="#4aa63b" stroke="#163a14" stroke-width="2.8" />
<path d="M1872 754 L1958 754 L1975 771 L1975 884 Q1975 890 1969 890 L1872 890 Q1866 890 1866 884 L1866 760 Q1866 754 1872 754 Z" fill="#f6fbfb" stroke="#13202c" stroke-width="2.8" stroke-linejoin="round" stroke-linecap="round" />
<path d="M1958 754 L1958 771 L1975 771 Z" fill="#7fc2d8" stroke="#13202c" stroke-width="2.2" stroke-linejoin="round" stroke-linecap="round" />
<circle cx="1919.4" cy="788.8" r="21" fill="#2a93b5" stroke="#13202c" stroke-width="2.6" />
<path d="M1906 778 q8 -8 16 -4 q-2 8 -8 10 q4 8 -2 18 q-10 -4 -10 -14 q0 -6 4 -10 Z M1928 782 q8 4 8 14 q-2 8 -8 10 q-4 -6 -2 -12 q-2 -6 2 -12 Z" fill="#4f9a45" stroke="#13202c" stroke-width="1.5" stroke-linejoin="round" stroke-linecap="round" />
<path d="M1880 819.4 L1960 819.4" fill="none" stroke="#1a2730" stroke-width="2.6" stroke-linecap="butt" stroke-linejoin="round" />
<path d="M1880 829.7 L1960 829.7" fill="none" stroke="#1a2730" stroke-width="2.6" stroke-linecap="butt" stroke-linejoin="round" />
<path d="M1880 839.9 L1960 839.9" fill="none" stroke="#1a2730" stroke-width="2.6" stroke-linecap="butt" stroke-linejoin="round" />
<path d="M1880 850 L1919 850" fill="none" stroke="#1a2730" stroke-width="2.6" stroke-linecap="butt" stroke-linejoin="round" />
<path d="M1880 858.9 L1919 858.9" fill="none" stroke="#1a2730" stroke-width="2.6" stroke-linecap="butt" stroke-linejoin="round" />
<path d="M1880 869 L1919 869" fill="none" stroke="#1a2730" stroke-width="2.6" stroke-linecap="butt" stroke-linejoin="round" />
<circle cx="1945.6" cy="863.3" r="16.5" fill="#2196bf" stroke="#13202c" stroke-width="2.6" />
<path d="M1937 863 L1943.5 870 L1955 856" fill="none" stroke="#f1fbfd" stroke-width="4" stroke-linecap="round" stroke-linejoin="round" />
<path d="M1738 892 Q1740 878 1756 872 L1764 880 L1764 972 L1748 962 Z" fill="#1f5f95" stroke="#13202c" stroke-width="2.4" stroke-linejoin="round" stroke-linecap="round" />
<path d="M2052 880 Q2070 880 2072 896 L2064 968 L2046 976 Z" fill="#1f5f95" stroke="#13202c" stroke-width="2.4" stroke-linejoin="round" stroke-linecap="round" />
<path d="M1760 890 Q1776 876 1800 880 Q1812 884 1816 900 L1826 930 L1808 948 L1812 960 L1770 972 L1758 940 Z" fill="#45494d" stroke="#13202c" stroke-width="2.4" stroke-linejoin="round" stroke-linecap="round" />
<path d="M1776 856 Q1774 842 1786 840 L1800 844 L1802 864 Q1798 876 1788 874 Q1778 872 1776 856 Z" fill="#f3f5f5" stroke="#13202c" stroke-width="2" stroke-linejoin="round" stroke-linecap="round" />
<path d="M1772 852 Q1770 836 1786 834 Q1802 834 1804 848 L1800 856 Q1796 846 1786 846 Q1778 848 1776 858 Z" fill="#3a3f45" stroke="#13202c" stroke-width="2" stroke-linejoin="round" stroke-linecap="round" />
<path d="M1994 900 Q2000 882 2020 878 Q2044 878 2056 892 L2062 940 L2040 954 L2004 952 L1990 930 Z" fill="#1d4e7c" stroke="#13202c" stroke-width="2.4" stroke-linejoin="round" stroke-linecap="round" />
<path d="M2008 858 Q2004 842 2018 838 Q2034 838 2036 854 Q2036 868 2028 874 Q2014 878 2008 858 Z" fill="#4b3f3c" stroke="#13202c" stroke-width="2" stroke-linejoin="round" stroke-linecap="round" />
<path d="M2006 852 Q2004 836 2020 834 Q2036 834 2038 850 L2034 858 Q2030 846 2018 846 Q2010 848 2008 856 Z" fill="#2b2f33" stroke="#13202c" stroke-width="2" stroke-linejoin="round" stroke-linecap="round" />
<ellipse cx="1903.3" cy="1095.5" rx="39.5" ry="22" fill="#3a566b" stroke="#13202c" stroke-width="2.6" />
<ellipse cx="1903.3" cy="1091" rx="30" ry="16" fill="#4a6a80"  />
<path d="M1894 1050 L1915 1050 L1915 1094 Q1904 1100 1894 1094 Z" fill="#2b6385" stroke="#13202c" stroke-width="2.4" stroke-linejoin="round" stroke-linecap="round" />
<ellipse cx="1904.7" cy="991" rx="118" ry="67" fill="#3b7ea6" stroke="#13202c" stroke-width="2.6" />
<ellipse cx="1904.7" cy="984.5" rx="118" ry="67" fill="#e2faf5" stroke="#13202c" stroke-width="2.6" />
<path d="M1801 952 L1807 923 L1849 903 L1845 932 Z" fill="#4a4e52" stroke="#13202c" stroke-width="2.4" stroke-linejoin="round" stroke-linecap="round" />
<path d="M1802 936 q6 -4 10 2 q0 8 -8 8 Z M1840 924 q6 -2 8 4 q-2 6 -8 6 Z" fill="#f3f5f5" stroke="#13202c" stroke-width="1.6" stroke-linejoin="round" stroke-linecap="round" />
<path d="M1956 908.6 L1997 926 L2004 952.4 L1963 932 Z" fill="#4a4e52" stroke="#13202c" stroke-width="2.4" stroke-linejoin="round" stroke-linecap="round" />
<path d="M1996 940 q8 -2 10 6 q-4 6 -12 2 Z" fill="#f3f5f5" stroke="#13202c" stroke-width="1.6" stroke-linejoin="round" stroke-linecap="round" />
<path d="M1855 971 A49.7 36.5 0 0 0 1954.4 971 L1954.4 977 A49.7 36.5 0 0 1 1855 977 Z" fill="#2a6e56" stroke="#13202c" stroke-width="2" stroke-linejoin="round" stroke-linecap="round" />
<path d="M1902.7 934.9 A47.7 36.5 0 0 0 1902.7 1007.9 Z" fill="#48a53c" stroke="#173b15" stroke-width="2.4" stroke-linejoin="round" stroke-linecap="round" />
<path d="M1906.7 934.9 A47.7 36.5 0 0 1 1906.7 1007.9 Z" fill="#2196bf" stroke="#13202c" stroke-width="2.4" stroke-linejoin="round" stroke-linecap="round" />
<ellipse cx="1767.4" cy="1127.7" rx="25" ry="14.6" fill="#45494d" stroke="#13202c" stroke-width="2.4" />
<path d="M1764 1090 L1771 1090 L1771 1126 L1764 1126 Z" fill="#45494d" stroke="#13202c" stroke-width="2" stroke-linejoin="round" stroke-linecap="round" />
<path d="M1716 1002 Q1716 996 1724 998 L1758 1012 L1776 1080 L1810 1070 L1818 1080 L1776 1100 Q1764 1102 1756 1094 L1728 1070 Z" fill="#45494d" stroke="#13202c" stroke-width="2.4" stroke-linejoin="round" stroke-linecap="round" />
<path d="M1778 1044 L1826 1040 Q1836 1042 1838 1054 L1840 1120 L1856 1126 L1854 1134 L1826 1132 L1820 1070 L1790 1078 Z" fill="#274d73" stroke="#13202c" stroke-width="2.4" stroke-linejoin="round" stroke-linecap="round" />
<path d="M1800 1080 L1812 1078 L1814 1116 L1800 1118 Z" fill="#274d73" stroke="#13202c" stroke-width="2" stroke-linejoin="round" stroke-linecap="round" />
<path d="M1798 1116 q10 -4 18 0 l0 6 l-18 0 Z M1824 1126 q16 -4 32 2 l-2 8 l-30 -2 Z" fill="#3a3d41" stroke="#13202c" stroke-width="1.8" stroke-linejoin="round" stroke-linecap="round" />
<path d="M1742 992 Q1750 978 1768 982 Q1784 988 1792 1006 L1812 1024 L1828 1010 L1834 1018 L1814 1042 L1796 1036 L1790 1062 L1760 1070 L1748 1040 Z" fill="#b5daf0" stroke="#13202c" stroke-width="2.4" stroke-linejoin="round" stroke-linecap="round" />
<path d="M1742 1000 L1760 1068 L1776 1064 L1764 1004 Z" fill="#dff2f0"  />
<polygon points="1802.5,1002 1821.5,975.8 1846.3,988.9 1828.8,1013.7" fill="#4a4e52" stroke="#13202c" stroke-width="2.2" stroke-linejoin="round" />
<polygon points="1808,1001 1822.5,981 1840.5,990.5 1827.5,1009" fill="#e9f6f3" stroke="#13202c" stroke-width="1.4" stroke-linejoin="round" />
<path d="M1815 996 L1824 985 M1819 999 L1830 988 M1823 1002 L1834 991" fill="none" stroke="#8fbcb0" stroke-width="2" stroke-linecap="butt" stroke-linejoin="round" />
<path d="M1826 1012 q6 -2 10 2 q0 6 -8 6 Z" fill="#f3f5f5" stroke="#13202c" stroke-width="1.6" stroke-linejoin="round" stroke-linecap="round" />
<path d="M1760 976 Q1758 966 1766 962 L1776 966 L1778 980 Q1772 988 1764 984 Z" fill="#f3f5f5" stroke="#13202c" stroke-width="1.8" stroke-linejoin="round" stroke-linecap="round" />
<path d="M1752 970 Q1748 952 1764 950 Q1780 950 1780 964 Q1776 972 1768 972 Q1764 982 1756 980 Z" fill="#3a3f45" stroke="#13202c" stroke-width="2" stroke-linejoin="round" stroke-linecap="round" />
<ellipse cx="2040.6" cy="1127.7" rx="25" ry="14.6" fill="#45494d" stroke="#13202c" stroke-width="2.4" />
<path d="M2037 1090 L2044 1090 L2044 1126 L2037 1126 Z" fill="#45494d" stroke="#13202c" stroke-width="2" stroke-linejoin="round" stroke-linecap="round" />
<path d="M2090 1000 Q2092 992 2084 996 L2052 1012 L2040 1076 L1998 1068 L1992 1080 L2034 1100 Q2046 1104 2056 1094 L2082 1074 Z" fill="#45494d" stroke="#13202c" stroke-width="2.4" stroke-linejoin="round" stroke-linecap="round" />
<path d="M2040 1040 L1990 1044 Q1980 1046 1978 1058 L1968 1112 L1956 1120 L1958 1128 L1984 1126 L1992 1078 L2032 1076 Z" fill="#3a3d41" stroke="#13202c" stroke-width="2.4" stroke-linejoin="round" stroke-linecap="round" />
<path d="M1996 1084 L2008 1082 L2004 1110 L1990 1112 Z" fill="#3a3d41" stroke="#13202c" stroke-width="2" stroke-linejoin="round" stroke-linecap="round" />
<path d="M1954 1118 q12 -6 22 0 l-2 8 l-20 -2 Z M1984 1110 q10 -4 20 0 l0 6 l-22 0 Z" fill="#eef3f3" stroke="#13202c" stroke-width="1.8" stroke-linejoin="round" stroke-linecap="round" />
<path d="M2030 996 Q2044 988 2056 996 L2060 1040 L2046 1076 L2020 1062 L2022 1030 L1998 1026 L1988 1014 L1994 1008 L2024 1012 Z" fill="#2196bf" stroke="#13202c" stroke-width="2.4" stroke-linejoin="round" stroke-linecap="round" />
<polygon points="1970.5,984.5 1996.8,972.8 2020,999 1993.9,1010.8" fill="#4a4e52" stroke="#13202c" stroke-width="2.2" stroke-linejoin="round" />
<polygon points="1976,985.5 1995.5,977 2013.5,997.5 1994.5,1006" fill="#e9f6f3" stroke="#13202c" stroke-width="1.4" stroke-linejoin="round" />
<path d="M1984 986 L1996 981 M1988 991 L2001 985 M1992 996 L2005 990" fill="none" stroke="#8fbcb0" stroke-width="2" stroke-linecap="butt" stroke-linejoin="round" />
<path d="M1988 1008 q-6 0 -8 6 q4 6 10 2 Z" fill="#f3f5f5" stroke="#13202c" stroke-width="1.6" stroke-linejoin="round" stroke-linecap="round" />
<path d="M2034 972 Q2032 962 2040 960 L2048 966 L2048 982 Q2042 988 2036 984 Z" fill="#f3f5f5" stroke="#13202c" stroke-width="1.8" stroke-linejoin="round" stroke-linecap="round" />
<path d="M2038 962 Q2044 948 2060 952 Q2076 960 2076 982 Q2078 1000 2066 1004 Q2054 1006 2050 994 Q2050 978 2046 968 Z" fill="#3a3f45" stroke="#13202c" stroke-width="2" stroke-linejoin="round" stroke-linecap="round" />
<polygon points="2411.1,1031.7 2447.8,1050.1 2447.8,1221.5 2411.1,1204.7" fill="#1a5a8c" stroke="#13202c" stroke-width="2.4" stroke-linejoin="round" /><polygon points="2447.8,1050.1 2483,1033.3 2483,1203.1 2447.8,1221.5" fill="#1c6095" stroke="#13202c" stroke-width="2.4" stroke-linejoin="round" /><polygon points="2411.1,1031.7 2446.3,1016.4 2483,1033.3 2447.8,1050.1" fill="#1d6d9c" stroke="#13202c" stroke-width="2.4" stroke-linejoin="round" />
<polygon points="2440.2,1030.2 2440.2,985.8 2426.4,981.2 2457,949.1 2486.1,1008.8 2467.7,1002.6 2467.7,1030.2 2454,1037.8" fill="#1f8eb3" stroke="#13202c" stroke-width="2.4" stroke-linejoin="round" />
<polygon points="2457,949.1 2486.1,1008.8 2467.7,1002.6 2467.7,1030.2 2461.6,1033.9 2461.6,996.5 2472.3,1000.2" fill="#176a8a" stroke="#13202c" stroke-width="2" stroke-linejoin="round" />
<polygon points="2375.9,1085.3 2411.1,1102.1 2411.1,1241.4 2375.9,1226.1" fill="#1f8eb3" stroke="#13202c" stroke-width="2.4" stroke-linejoin="round" /><polygon points="2411.1,1102.1 2446.3,1082.2 2446.3,1223 2411.1,1241.4" fill="#23a0c2" stroke="#13202c" stroke-width="2.4" stroke-linejoin="round" /><polygon points="2375.9,1085.3 2412.6,1065.4 2446.3,1082.2 2411.1,1102.1" fill="#2196bf" stroke="#13202c" stroke-width="2.4" stroke-linejoin="round" />
<polygon points="2340.7,1135.8 2375.9,1151.1 2375.9,1261.3 2340.7,1244.5" fill="#8cc4da" stroke="#13202c" stroke-width="2.4" stroke-linejoin="round" /><polygon points="2375.9,1151.1 2409.6,1131.2 2409.6,1241.4 2375.9,1261.3" fill="#93cbdf" stroke="#13202c" stroke-width="2.4" stroke-linejoin="round" /><polygon points="2340.7,1135.8 2375.9,1117.4 2409.6,1131.2 2375.9,1151.1" fill="#a9d4e8" stroke="#13202c" stroke-width="2.4" stroke-linejoin="round" />
<polygon points="2304,1186.3 2339.2,1201.6 2339.2,1264.4 2304,1247.5" fill="#c9e2f3" stroke="#13202c" stroke-width="2.4" stroke-linejoin="round" /><polygon points="2339.2,1201.6 2374.4,1184.8 2374.4,1259.8 2339.2,1264.4" fill="#bcdaf0" stroke="#13202c" stroke-width="2.4" stroke-linejoin="round" /><polygon points="2304,1186.3 2339.2,1166.4 2374.4,1184.8 2339.2,1201.6" fill="#dff3ee" stroke="#13202c" stroke-width="2.4" stroke-linejoin="round" />
<polygon points="2267.2,1232.2 2302.4,1250 2302.4,1284.2 2267.2,1265.9" fill="#cfe5f5" stroke="#13202c" stroke-width="2.4" stroke-linejoin="round" /><polygon points="2302.4,1250 2339.2,1229.2 2339.2,1262.8 2302.4,1284.2" fill="#dff3ef" stroke="#13202c" stroke-width="2.4" stroke-linejoin="round" /><polygon points="2267.2,1232.2 2304,1213.8 2339.2,1229.2 2302.4,1250" fill="#e6f7f3" stroke="#13202c" stroke-width="2.4" stroke-linejoin="round" />
<rect x="2481.5" y="1137.3" width="93.4" height="116.3" fill="#1e6f8e" stroke="#13202c" stroke-width="2.6"/>
<rect x="2472.3" y="1148" width="93.4" height="116.3" fill="#eef9f7" stroke="#13202c" stroke-width="2.6"/>
<path d="M2528.9 1164.9 L2555 1164.9" fill="none" stroke="#18242c" stroke-width="2.6" stroke-linecap="butt" stroke-linejoin="round" />
<path d="M2528.9 1178.6 L2555 1178.6" fill="none" stroke="#18242c" stroke-width="2.6" stroke-linecap="butt" stroke-linejoin="round" />
<path d="M2528.9 1190.9 L2555 1190.9" fill="none" stroke="#18242c" stroke-width="2.6" stroke-linecap="butt" stroke-linejoin="round" />
<path d="M2486.1 1207.7 L2555 1207.7" fill="none" stroke="#18242c" stroke-width="2.6" stroke-linecap="butt" stroke-linejoin="round" />
<path d="M2486.1 1220 L2555 1220" fill="none" stroke="#18242c" stroke-width="2.6" stroke-linecap="butt" stroke-linejoin="round" />
<path d="M2486.1 1232.2 L2519.8 1232.2" fill="none" stroke="#18242c" stroke-width="2.6" stroke-linecap="butt" stroke-linejoin="round" />
<path d="M2486.1 1244.5 L2519.8 1244.5" fill="none" stroke="#18242c" stroke-width="2.6" stroke-linecap="butt" stroke-linejoin="round" />
<path d="M2486.1 1177.1 L2499.9 1163.3" fill="none" stroke="#18242c" stroke-width="4" stroke-linecap="butt" stroke-linejoin="round" />
<polygon points="2489.2,1162.4 2502.9,1160.3 2500.8,1174.1" fill="#18242c"  />
<path d="M2489.2 1195.5 Q2493.2 1184.2 2504.5 1180.2" fill="none" stroke="#2c6b5c" stroke-width="3" stroke-linecap="round" stroke-linejoin="round" />
<circle cx="2512.1" cy="1187.8" r="4.5" fill="none" stroke="#18242c" stroke-width="3" />
<rect x="2529.4" y="1241.4" width="4" height="9.2" fill="#2aa58f"/>
<rect x="2536.1" y="1236.8" width="4" height="13.8" fill="#2aa58f"/>
<rect x="2542.9" y="1232.2" width="4" height="18.4" fill="#2aa58f"/>
<rect x="2549.6" y="1226.1" width="4" height="24.5" fill="#2aa58f"/>
<ellipse cx="2380" cy="1326" rx="58" ry="32" fill="#b9dcef" stroke="#13202c" stroke-width="2.4" />
<rect x="2322" y="1314" width="116" height="12" fill="#b9dcef"/>
<path d="M2322 1314 v12 M2438 1314 v12" fill="none" stroke="#13202c" stroke-width="2.4" stroke-linecap="round" stroke-linejoin="round" />
<ellipse cx="2380" cy="1314" rx="58" ry="32" fill="#dbf5ef" stroke="#13202c" stroke-width="2.4" />
<path d="M2438 1314 A58 32 0 0 1 2417.3 1338.5 l0 12 A58 32 0 0 0 2438 1326 Z" fill="#176a8a" stroke="#13202c" stroke-width="2" stroke-linejoin="round" stroke-linecap="round" />
<path d="M2380 1314 L2417.3 1338.5 l0 12 L2380 1326 Z" fill="#1a5f86" stroke="#13202c" stroke-width="2" stroke-linejoin="round" stroke-linecap="round" />
<path d="M2380 1314 L2380 1282 A58 32 0 0 1 2417.3 1338.5 Z" fill="#1fa0c0" stroke="#13202c" stroke-width="2.2" stroke-linejoin="round" stroke-linecap="round" />
<path d="M2380 1303 L2431.2 1288 L2431.2 1301 L2380 1316 Z" fill="#14506e" stroke="#13202c" stroke-width="2" stroke-linejoin="round" stroke-linecap="round" />
<path d="M2380 1271 L2380 1303 L2380 1316 L2380 1282 Z" fill="#1d7a6a" stroke="#13202c" stroke-width="2" stroke-linejoin="round" stroke-linecap="round" />
<path d="M2380 1303 L2380 1271 A58 32 0 0 1 2431.2 1288 Z" fill="#2a8cc4" stroke="#13202c" stroke-width="2.2" stroke-linejoin="round" stroke-linecap="round" />
<path d="M2404 1276 L2416 1270" fill="none" stroke="#b9c4c6" stroke-width="3" stroke-linecap="round" stroke-linejoin="round" />
<circle cx="2555" cy="1017.9" r="29" fill="#1d6f8c" stroke="#13202c" stroke-width="2.6" />
<circle cx="2555" cy="1017.9" r="21" fill="#d3f1f3" stroke="#13202c" stroke-width="1.8" />
<circle cx="2555" cy="1017.9" r="14" fill="#1f8eb3" stroke="#13202c" stroke-width="1.8" />
<circle cx="2555" cy="1017.9" r="6" fill="#176a8a" stroke="#13202c" stroke-width="1.4" />
<path d="M2555 1017.9 L2587.1 991.9" fill="none" stroke="#13202c" stroke-width="3" stroke-linecap="round" stroke-linejoin="round" />
<polygon points="2577.9,990.4 2588.6,976.6 2597.8,985.8 2587.1,996.5" fill="#2a8a8a" stroke="#13202c" stroke-width="1.8" stroke-linejoin="round" />
<circle cx="2316.1" cy="1102.1" r="44" fill="#22323b" stroke="#13202c" stroke-width="2" />
<circle cx="2313.1" cy="1099.1" r="44" fill="#1d7a98" stroke="#13202c" stroke-width="2.6" />
<circle cx="2313.1" cy="1099.1" r="33.5" fill="#dcf4f4" stroke="#13202c" stroke-width="2.4" />
<path d="M2289.1 1093.1 a26 26 0 0 1 40 -6 l-36 26 Z" fill="#c9e6f5"  />
<path d="M2285.6 1128.1 L2271.8 1141" fill="none" stroke="#13202c" stroke-width="5" stroke-linecap="round" stroke-linejoin="round" />
<path d="M2273.4 1138.9 L2251 1159.4" fill="none" stroke="#13202c" stroke-width="15" stroke-linecap="round" stroke-linejoin="round" />
<path d="M2273.4 1138.9 L2251 1159.4" fill="none" stroke="#2190c0" stroke-width="10" stroke-linecap="round" stroke-linejoin="round" />
<path d="M2197.8 1200.1 L2237.5 1201.6 L2238.8 1250.6 L2236.9 1288.8 L2249.2 1294 L2246.1 1300.2 L2225.9 1299.6 L2222.2 1247.5 L2216.1 1226.1 L2210 1256.7 L2206.9 1277.5 L2210.6 1284.2 L2192.9 1291.9 L2192.2 1284.2 L2195.3 1278.1 L2196.8 1241.4 Z" fill="#3a3d41" stroke="#13202c" stroke-width="2.2" stroke-linejoin="round" stroke-linecap="round" />
<path d="M2193.8 1140.4 L2209.1 1131.2 L2225.9 1134.3 L2245.8 1161.8 L2264.2 1152.6 L2271.8 1164.9 L2245.8 1183.2 L2236.6 1174.1 L2236.6 1203.1 L2198.4 1201.6 L2196.8 1180.2 L2184.6 1164.9 Z" fill="#45494d" stroke="#13202c" stroke-width="2.4" stroke-linejoin="round" stroke-linecap="round" />
<path d="M2265.7 1155.7 q6 -4 10 2 q0 8 -8 8 Z" fill="#f3f5f5" stroke="#13202c" stroke-width="1.6" stroke-linejoin="round" stroke-linecap="round" />
<path d="M2213.8 1117.9 q-2 -14 10 -16 l12 4 l0 22 q-6 8 -14 4 Z" fill="#f3f5f5" stroke="#13202c" stroke-width="1.8" stroke-linejoin="round" stroke-linecap="round" />
<path d="M2207.8 1119.9 q-4 -18 14 -20 q14 0 16 10 l-4 4 q-6 -4 -12 0 q-2 10 -4 18 q-8 -2 -10 -12 Z" fill="#3a3f45" stroke="#13202c" stroke-width="2" stroke-linejoin="round" stroke-linecap="round" />
<path d="M2242.7 1054.7 L2383.6 981.2" stroke="#7fb0b3" stroke-width="2" stroke-dasharray="9 5" fill="none"/>
<path d="M2242.7 1054.7 L2242.7 1094.5" stroke="#7fb0b3" stroke-width="2" stroke-dasharray="9 5" fill="none"/>
<path d="M2359.1 998.1 L2359.1 1039.4" stroke="#7fb0b3" stroke-width="2" fill="none"/>
<defs><linearGradient id="gSrvR" x1="0" y1="0" x2="1" y2="0"><stop offset="0" stop-color="#2a9ac0"/><stop offset="1" stop-color="#1f7fae"/></linearGradient><clipPath id="cpL"><rect x="1700" y="300" width="325.6" height="400"/></clipPath><clipPath id="cpR"><rect x="2025.6" y="300" width="400" height="400"/></clipPath></defs>
<path d="M1840.6 510.6 C1825.8 503.2 1825.7 490.8 1840.3 483 L1992.5 401.7 C2007.1 393.9 2031 393.5 2045.8 400.9 L2204 480.1 C2218.8 487.5 2219 499.8 2204.4 507.6 L2052.2 589 C2037.5 596.8 2013.7 597.1 1998.9 589.7 Z" fill="none" stroke="#13202c" stroke-width="6" stroke-linejoin="round"/>
<g fill="#b9dcf2" clip-path="url(#cpL)"><path d="M1840.6 510.6 C1825.8 503.2 1825.7 490.8 1840.3 483 L1992.5 401.7 C2007.1 393.9 2031 393.5 2045.8 400.9 L2204 480.1 C2218.8 487.5 2219 499.8 2204.4 507.6 L2052.2 589 C2037.5 596.8 2013.7 597.1 1998.9 589.7 Z"/><polygon points="1829.4,459 2215.2,455.7 2215.2,493.7 1829.4,497"/></g>
<g fill="url(#gSrvR)" clip-path="url(#cpR)"><path d="M1840.6 510.6 C1825.8 503.2 1825.7 490.8 1840.3 483 L1992.5 401.7 C2007.1 393.9 2031 393.5 2045.8 400.9 L2204 480.1 C2218.8 487.5 2219 499.8 2204.4 507.6 L2052.2 589 C2037.5 596.8 2013.7 597.1 1998.9 589.7 Z"/><polygon points="1829.4,459 2215.2,455.7 2215.2,493.7 1829.4,497"/></g>
<path d="M1829.4 459 v38 M2215.2 455.7 v38" fill="none" stroke="#13202c" stroke-width="3" stroke-linecap="round" stroke-linejoin="round" />
<path d="M1840.6 472.6 C1825.8 465.2 1825.7 452.8 1840.3 445 L1992.5 363.7 C2007.1 355.9 2031 355.5 2045.8 362.9 L2204 442.1 C2218.8 449.5 2219 461.8 2204.4 469.6 L2052.2 551 C2037.5 558.8 2013.7 559.1 1998.9 551.7 Z" fill="#ecfaf7" stroke="#13202c" stroke-width="3" stroke-linejoin="round"/>
<path d="M1840.9 486.7 L1867 499.2" fill="none" stroke="#2b7d96" stroke-width="4" stroke-linecap="round" stroke-linejoin="round" />
<path d="M2095.9 540.7 L2172.7 502.4" fill="none" stroke="#14507f" stroke-width="5" stroke-linecap="round" stroke-linejoin="round" />
<circle cx="2180.9" cy="495.9" r="2.6" fill="#8fe1f5"  />
<circle cx="2189.1" cy="492" r="2.6" fill="#8fe1f5"  />
<circle cx="2197.2" cy="488.1" r="2.6" fill="#8fe1f5"  />
<path d="M1881 460.6 C1874.2 457 1874.2 451.1 1881 447.4 L2010 377.4 C2016.8 373.7 2027.9 373.6 2034.7 377.3 L2163.6 445.8 C2170.4 449.5 2170.5 455.4 2163.7 459.1 L2034.6 529.1 C2027.8 532.8 2016.8 532.8 2010 529.2 Z" fill="#2a6f95" stroke="#13202c" stroke-width="2.6"/>
<path d="M1893.3 465.7 C1887.4 462.6 1887.4 457.5 1893.2 454.4 L2011.8 390.4 C2017.6 387.2 2027.1 387.2 2032.9 390.3 L2151.4 452.8 C2157.2 455.9 2157.2 461 2151.4 464.1 L2032.9 528.1 C2027 531.2 2017.6 531.3 2011.7 528.2 Z" fill="#2b3a44" stroke="none"/>
<path d="M1924 460.7 C1921.1 459.3 1921 456.8 1924 455.3 L2017 407.4 C2019.9 405.9 2024.7 405.9 2027.7 407.4 L2120.6 453.7 C2123.6 455.2 2123.6 457.6 2120.6 459.2 L2027.7 507 C2024.7 508.6 2019.9 508.6 2016.9 507.1 Z" fill="none" stroke="#5fae9e" stroke-width="1.6"/>
<ellipse cx="2020" cy="375" rx="75" ry="45" fill="#c3e2f6" opacity="0.9" filter="url(#blur8)"/>
<polygon points="1943.9,424.6 2020.7,467.1 2020.7,497.1 1943.9,454.6" fill="#cfe6f5" stroke="#13202c" stroke-width="2.4" stroke-linejoin="round" /><polygon points="2020.7,467.1 2099.1,426.3 2099.1,456.3 2020.7,497.1" fill="#1b5b8d" stroke="#13202c" stroke-width="2.4" stroke-linejoin="round" /><path d="M1951.9 438.6 L1973.9 449.6" fill="none" stroke="#1d5d86" stroke-width="3.4" stroke-linecap="round" stroke-linejoin="round" /><circle cx="1998.7" cy="473.1" r="1.6" fill="#9fc3d8"  /><circle cx="2073.1" cy="442.3" r="2" fill="#7fd9f2"  /><circle cx="2004.7" cy="476.1" r="1.6" fill="#9fc3d8"  /><circle cx="2080.1" cy="438.8" r="2" fill="#7fd9f2"  /><circle cx="2010.7" cy="479.1" r="1.6" fill="#9fc3d8"  /><circle cx="2087.1" cy="435.3" r="2" fill="#7fd9f2"  />
<polygon points="1943.9,390.3 2020.7,432.8 2020.7,462.8 1943.9,420.3" fill="#cfe6f5" stroke="#13202c" stroke-width="2.4" stroke-linejoin="round" /><polygon points="2020.7,432.8 2099.1,391.9 2099.1,421.9 2020.7,462.8" fill="#1b5b8d" stroke="#13202c" stroke-width="2.4" stroke-linejoin="round" /><path d="M1950.9 394.2 C1947 392 1947 388.5 1950.8 386.4 L2012.1 351.7 C2015.9 349.6 2022.2 349.5 2026.1 351.7 L2092.1 388.1 C2096 390.2 2096 393.6 2092.1 395.6 L2027.8 429.1 C2023.9 431.1 2017.5 431.1 2013.7 428.9 Z" fill="#b9def1" stroke="#13202c" stroke-width="2.4"/><path d="M1976.8 394.2 C1973 392 1973 388.5 1976.8 386.3 L2012.1 365.8 C2015.9 363.6 2022.2 363.5 2026 365.7 L2066.2 388 C2070 390.2 2070 393.6 2066 395.6 L2027.8 415.2 C2023.9 417.2 2017.6 417 2013.7 414.9 Z" fill="#5fc9d2" filter="url(#blur2)"/><path d="M1951.9 404.3 L1973.9 415.3" fill="none" stroke="#1d5d86" stroke-width="3.4" stroke-linecap="round" stroke-linejoin="round" /><circle cx="1998.7" cy="438.8" r="1.6" fill="#9fc3d8"  /><circle cx="2073.1" cy="407.9" r="2" fill="#7fd9f2"  /><circle cx="2004.7" cy="441.8" r="1.6" fill="#9fc3d8"  /><circle cx="2080.1" cy="404.4" r="2" fill="#7fd9f2"  /><circle cx="2010.7" cy="444.8" r="1.6" fill="#9fc3d8"  /><circle cx="2087.1" cy="400.9" r="2" fill="#7fd9f2"  />
<path d="M1951 232.8 C1947.8 208.3 1972.3 191.9 1996.2 212.5 C2003.4 177.2 2052.4 164.2 2078.5 203.4 C2091.6 219.7 2096.5 236.1 2097.5 251.8 C2122.7 245.9 2142.3 275.3 2140 308 C2138.1 332.5 2121.1 347.2 2103.1 338.1 L1970.7 269.4 C1957.6 262.2 1951.7 249.2 1951 232.8 Z" fill="#5bb5d2" stroke="#13202c" stroke-width="2.8" stroke-linejoin="round" stroke-linecap="round" />
<path d="M1934 244.8 C1930.8 220.3 1955.3 203.9 1979.2 224.5 C1986.4 189.2 2035.4 176.2 2061.5 215.4 C2074.6 231.7 2079.5 248.1 2080.5 263.8 C2105.7 257.9 2125.3 287.3 2123 320 C2121.1 344.5 2104.1 359.2 2086.1 350.1 L1953.7 281.4 C1940.6 274.2 1934.7 261.2 1934 244.8 Z" fill="#d6f2ec" stroke="#13202c" stroke-width="2.8" stroke-linejoin="round" stroke-linecap="round" />
<circle cx="269.8" cy="177" r="4.2" fill="#1f6a72"  />
<circle cx="305.6" cy="220.6" r="4.5" fill="#2a9aa8"  />
<path d="M336.5 243.4 Q336.5 256.4 349.5 256.4 Q336.5 256.4 336.5 269.4 Q336.5 256.4 323.5 256.4 Q336.5 256.4 336.5 243.4 Z" fill="#2aa3c9"  /><path d="M336.5 249.2 L343.6 256.4 L336.5 263.5 L329.4 256.4 Z" fill="#2aa3c9"  />
<circle cx="339" cy="184" r="5" fill="#b4d8d2"  />
<circle cx="538.5" cy="128" r="3.6" fill="#1f6a72"  />
<circle cx="592" cy="118.6" r="4.5" fill="#b4d8d2"  />
<circle cx="559.8" cy="163" r="7" fill="#24507c"  />
<circle cx="706" cy="305.5" r="4.6" fill="#2a9aa8"  />
<circle cx="749" cy="351.5" r="4.4" fill="#1f6a72"  />
<path d="M697.5 385.6 Q697.5 399.6 711.5 399.6 Q697.5 399.6 697.5 413.6 Q697.5 399.6 683.5 399.6 Q697.5 399.6 697.5 385.6 Z" fill="#2a9fd3"  /><path d="M697.5 391.9 L705.2 399.6 L697.5 407.3 L689.8 399.6 Z" fill="#2a9fd3"  />
<circle cx="779" cy="419" r="4" fill="#9cc4e4"  />
<circle cx="757.5" cy="554.5" r="3.6" fill="#9cc4e4"  />
<circle cx="759.6" cy="593" r="4.6" fill="#24507c"  />
<circle cx="722" cy="597" r="3.6" fill="#9cc4e4"  />
<rect x="914" y="367" width="13" height="16" fill="#b9d8f1" opacity="0.85"/>
<rect x="935.5" y="331" width="14.2" height="45" fill="#b9d8f1" opacity="0.85"/>
<rect x="956.8" y="298" width="14.2" height="59" fill="#b9d8f1" opacity="0.85"/>
<rect x="975.7" y="286" width="13" height="64" fill="#b9d8f1" opacity="0.85"/>
<path d="M907 265 V390" stroke="#a3c9c0" stroke-width="2.2" stroke-dasharray="7 5" fill="none"/>
<path d="M836 315 V416" stroke="#a3c9c0" stroke-width="2.2" stroke-dasharray="7 5" fill="none"/>
<path d="M819.7 341 V430" stroke="#a3c9c0" stroke-width="2.2" stroke-dasharray="7 5" fill="none"/>
<path d="M854 376 V414" stroke="#a3c9c0" stroke-width="2.2" stroke-dasharray="7 5" fill="none"/>
<path d="M926 272 V292" stroke="#a3c9c0" stroke-width="2.2" stroke-dasharray="7 5" fill="none"/>
<circle cx="1029" cy="307.7" r="4.4" fill="#2a9aa8"  />
<circle cx="993" cy="255.7" r="4" fill="#b4d8d2"  />
<circle cx="1019.4" cy="255.7" r="3.5" fill="#b4d8d2"  />
<path d="M728 605 V690 M742 620 V720" stroke="#8fb8b8" stroke-width="1.8" stroke-dasharray="8 4" fill="none"/>
<circle cx="1358.4" cy="592.5" r="3.5" fill="#3f6b5c"  />
<circle cx="1330" cy="612.8" r="3.5" fill="#b4d8d2"  />
<circle cx="1292.7" cy="633" r="3" fill="#b4d8d2"  />
<circle cx="1335" cy="652" r="5.2" fill="#24507c"  />
<circle cx="1612" cy="644" r="5.2" fill="#6a9a20"  />
<circle cx="1601" cy="681.7" r="3" fill="#8fb58a"  />
<circle cx="1662" cy="678.6" r="5.2" fill="#24507c"  />
<circle cx="1629" cy="694" r="4.6" fill="#9cc4e4"  />
<rect x="2628" y="1072.6" width="7" height="10" fill="#8fc0e6" opacity="0.9"/>
<rect x="2628" y="1109.4" width="7" height="10" fill="#8fc0e6" opacity="0.9"/>
<path d="M2601 1103 V1195" stroke="#9cc7c6" stroke-width="2" stroke-dasharray="10 8" fill="none"/>
<rect x="2597.5" y="1130" width="7" height="11" fill="#8fd0e6" opacity="0.8"/>
<rect x="2597.5" y="1157" width="7" height="11" fill="#8fd0e6" opacity="0.8"/>
<rect x="2597.5" y="1185" width="7" height="11" fill="#8fd0e6" opacity="0.8"/>
<circle cx="2536.6" cy="933.8" r="3.5" fill="#9cc4e4"  />
<circle cx="2516.7" cy="955" r="4" fill="#b4d8d2"  />
<path d="M1827.8 280.8 L1827.8 310.2" fill="none" stroke="#86b4b6" stroke-width="1.8" stroke-linecap="butt" stroke-linejoin="round" />
<path d="M1862.1 318.4 L1862.1 411.5" fill="none" stroke="#86b4b6" stroke-width="1.8" stroke-linecap="butt" stroke-linejoin="round" />
<path d="M1880.1 352.7 L1880.1 408.3" fill="none" stroke="#86b4b6" stroke-width="1.8" stroke-linecap="butt" stroke-linejoin="round" />
<path d="M1893.2 277.5 L1893.2 313.5" fill="none" stroke="#86b4b6" stroke-width="1.8" stroke-linecap="butt" stroke-linejoin="round" />
<path d="M1906.3 215.4 L1906.3 267.7" fill="none" stroke="#86b4b6" stroke-width="1.8" stroke-linecap="butt" stroke-linejoin="round" />
<path d="M2166.2 300.4 L2166.2 398.5" fill="none" stroke="#86b4b6" stroke-width="1.8" stroke-linecap="butt" stroke-linejoin="round" />
<path d="M2182.5 346.2 L2182.5 411.5" fill="none" stroke="#86b4b6" stroke-width="1.8" stroke-linecap="butt" stroke-linejoin="round" />
<path d="M2187.4 280.8 L2187.4 313.5" fill="none" stroke="#86b4b6" stroke-width="1.8" stroke-linecap="butt" stroke-linejoin="round" />
<path d="M2211.9 261.2 L2211.9 277.5" fill="none" stroke="#86b4b6" stroke-width="1.8" stroke-linecap="butt" stroke-linejoin="round" />
<path d="M1870.3 352.7 L1870.3 408.3" fill="none" stroke="#86b4b6" stroke-width="1.8" stroke-linecap="butt" stroke-linejoin="round" />
<path d="M1842.5 306.9 L1862.1 318.4" fill="none" stroke="#86b4b6" stroke-width="1.8" stroke-linecap="round" stroke-linejoin="round" />
<rect x="1863.5" y="249.5" width="7" height="7" fill="#5aa6cf"/>
<circle cx="1867" cy="277.5" r="2.5" fill="#b4d8d2"  />
<circle cx="1885" cy="202.3" r="3.5" fill="#b4d8d2"  />
<circle cx="1885" cy="225.2" r="3" fill="#b4d8d2"  />
<circle cx="1845.8" cy="354.3" r="2.6" fill="#3f6b6c"  />
<circle cx="1845.8" cy="374" r="2.6" fill="#3f6b6c"  />
<circle cx="2154.7" cy="187.6" r="4" fill="#b4d8d2"  />
<circle cx="2189.1" cy="235" r="4" fill="#b4d8d2"  />
<circle cx="2153.1" cy="261.2" r="3.5" fill="#b4d8d2"  />
<circle cx="2202.1" cy="306.9" r="2.4" fill="#3f6b6c"  />
<circle cx="2202.1" cy="326.5" r="2.4" fill="#3f6b6c"  />
<circle cx="2203.8" cy="357.6" r="2.4" fill="#3f6b6c"  />
<circle cx="2149.8" cy="365.8" r="3" fill="#9cc4e4"  />
<circle cx="2149.8" cy="383.8" r="3" fill="#9cc4e4"  />
<path d="M2201 559 L2315 495" fill="none" stroke="#9cc9c4" stroke-width="2" stroke-linecap="round" stroke-linejoin="round" />
<path d="M2234 584 L2507 428" fill="none" stroke="#9cc9c4" stroke-width="2" stroke-linecap="round" stroke-linejoin="round" />
<path d="M2362 467 L2512.6 383.8" fill="none" stroke="#9cc9c4" stroke-width="2" stroke-linecap="round" stroke-linejoin="round" />
<path d="M2434.6 375.5 L2501.4 339.3" fill="none" stroke="#9cc9c4" stroke-width="2" stroke-linecap="round" stroke-linejoin="round" />
<path d="M2190 540 L2250 506" fill="none" stroke="#9cc9c4" stroke-width="1.8" stroke-linecap="round" stroke-linejoin="round" />
<polygon points="2334.5,403 2415,358.8 2418,366 2337.5,410" fill="none" stroke="#9cc9c4" stroke-width="1.8"/>
<path d="M2423.5 450.6 L2507 411.6" fill="none" stroke="#b9d8f1" stroke-width="9" stroke-linecap="round" stroke-linejoin="round" opacity="0.9"/>
<path d="M2315 508 L2451 432" stroke="#a6cfc8" stroke-width="3.4" stroke-dasharray="3 9" stroke-linecap="round" fill="none"/>
<path d="M2323 593 L2468 504" stroke="#a6cfc8" stroke-width="3.4" stroke-dasharray="3 9" stroke-linecap="round" fill="none"/>
<path d="M2412 574 L2468 543" stroke="#a6cfc8" stroke-width="3.4" stroke-dasharray="3 9" stroke-linecap="round" fill="none"/>
<path d="M2234 100 L2326 139" stroke="#a6cfc8" stroke-width="3.4" stroke-dasharray="3 9" stroke-linecap="round" fill="none"/>
<path d="M2334 105 L2396 136" stroke="#a6cfc8" stroke-width="3.4" stroke-dasharray="3 9" stroke-linecap="round" fill="none"/>
<path d="M2300 453 L2335 434" stroke="#a6cfc8" stroke-width="3.4" stroke-dasharray="3 9" stroke-linecap="round" fill="none"/>
<path d="M2232 88 l8 18 M2244 92 l8 18 M2256 96 l8 18 M2268 101 l8 18 M2280 106 l8 18 M2292 111 l8 18 M2304 116 l8 18 M2316 121 l8 18" stroke="#b4d8d2" stroke-width="3" fill="none"/>
<path d="M2256 52 L2316 80" fill="none" stroke="#a9d0ca" stroke-width="1.8" stroke-linecap="round" stroke-linejoin="round" />
<text x="173.5" y="675" font-size="43" font-weight="bold" fill="#131a20" stroke="#131a20" stroke-width="0.5" text-anchor="start" textLength="138" lengthAdjust="spacingAndGlyphs">Step 5:</text>
<text x="92.6" y="718" font-size="38.5" font-weight="bold" fill="#131a20" stroke="#131a20" stroke-width="0.5" text-anchor="start" textLength="299" lengthAdjust="spacingAndGlyphs">Excellence Audit</text>
<text x="121.3" y="760.5" font-size="38.5" font-weight="bold" fill="#131a20" stroke="#131a20" stroke-width="0.5" text-anchor="start" textLength="241.5" lengthAdjust="spacingAndGlyphs">&amp; Continuous</text>
<text x="117.5" y="803.2" font-size="38.5" font-weight="bold" fill="#131a20" stroke="#131a20" stroke-width="0.5" text-anchor="start" textLength="249" lengthAdjust="spacingAndGlyphs">Improvement.</text>
<text x="642.5" y="927.3" font-size="43" font-weight="bold" fill="#131a20" stroke="#131a20" stroke-width="0.5" text-anchor="start" textLength="139.5" lengthAdjust="spacingAndGlyphs">Step 4:</text>
<text x="397" y="969.4" font-size="38.5" font-weight="bold" fill="#131a20" stroke="#131a20" stroke-width="0.5" text-anchor="start" textLength="385.7" lengthAdjust="spacingAndGlyphs">Impact Measurement</text>
<text x="402.8" y="1011.7" font-size="38.5" font-weight="bold" fill="#131a20" stroke="#131a20" stroke-width="0.5" text-anchor="start" textLength="380" lengthAdjust="spacingAndGlyphs">&amp; Data Management.</text>
<text x="1045.8" y="1134.6" font-size="43" font-weight="bold" fill="#131a20" stroke="#131a20" stroke-width="0.5" text-anchor="start" textLength="137.2" lengthAdjust="spacingAndGlyphs">Step 3:</text>
<text x="866.6" y="1176.6" font-size="38.5" font-weight="bold" fill="#131a20" stroke="#131a20" stroke-width="0.5" text-anchor="start" textLength="316.4" lengthAdjust="spacingAndGlyphs">Integrating Social</text>
<text x="887.2" y="1219.4" font-size="38.5" font-weight="bold" fill="#131a20" stroke="#131a20" stroke-width="0.5" text-anchor="start" textLength="295.8" lengthAdjust="spacingAndGlyphs">Responsibility in</text>
<text x="889.4" y="1262.2" font-size="38.5" font-weight="bold" fill="#131a20" stroke="#131a20" stroke-width="0.5" text-anchor="start" textLength="293.6" lengthAdjust="spacingAndGlyphs">Core Processes.</text>
<text x="1500" y="1332.8" font-size="43" font-weight="bold" fill="#131a20" stroke="#131a20" stroke-width="0.5" text-anchor="start" textLength="139" lengthAdjust="spacingAndGlyphs">Step 2:</text>
<text x="1281.7" y="1374.7" font-size="38.5" font-weight="bold" fill="#131a20" stroke="#131a20" stroke-width="0.5" text-anchor="start" textLength="357.3" lengthAdjust="spacingAndGlyphs">Deeper Stakeholder</text>
<text x="1400.5" y="1417.4" font-size="38.5" font-weight="bold" fill="#131a20" stroke="#131a20" stroke-width="0.5" text-anchor="start" textLength="238.5" lengthAdjust="spacingAndGlyphs">Engagement.</text>
<text x="2056.7" y="1380.5" font-size="43" font-weight="bold" fill="#131a20" stroke="#131a20" stroke-width="0.5" text-anchor="start" textLength="141.3" lengthAdjust="spacingAndGlyphs">Step 1:</text>
<text x="1853.3" y="1423.2" font-size="38.5" font-weight="bold" fill="#131a20" stroke="#131a20" stroke-width="0.5" text-anchor="start" textLength="349.4" lengthAdjust="spacingAndGlyphs">Maturity Evaluation</text>
<text x="1871" y="1466.6" font-size="38.5" font-weight="bold" fill="#131a20" stroke="#131a20" stroke-width="0.5" text-anchor="start" textLength="318.5" lengthAdjust="spacingAndGlyphs">&amp; Social Strategy.</text>
</svg>
</body></html>
